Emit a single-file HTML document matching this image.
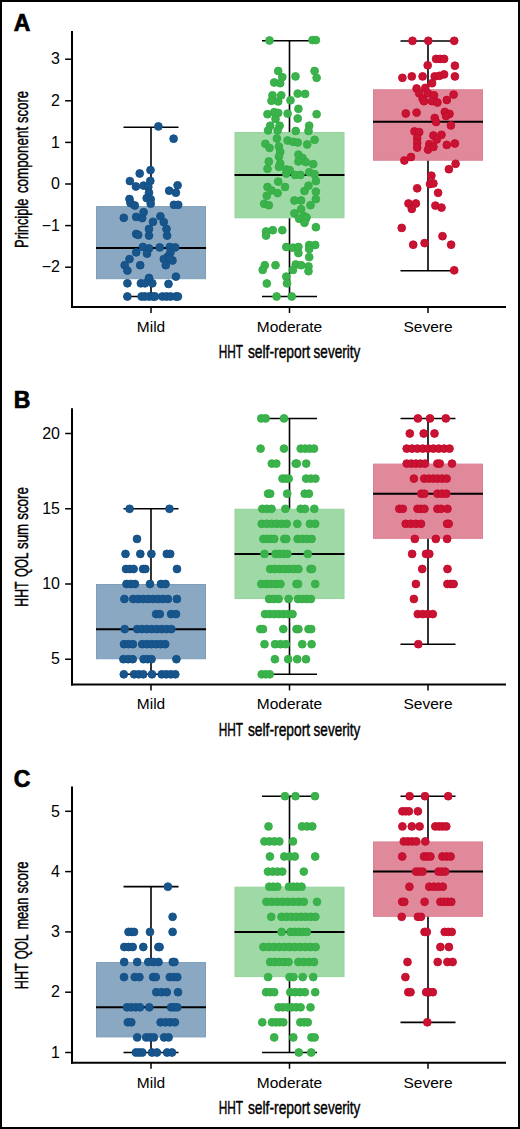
<!DOCTYPE html><html><head><meta charset="utf-8"><style>html,body{margin:0;padding:0;background:#fff;}svg{display:block;}</style></head><body>
<svg width="520" height="1129" viewBox="0 0 520 1129" font-family="Liberation Sans, sans-serif">
<rect x="0" y="0" width="520" height="1129" fill="#fff"/>
<rect x="96.50" y="206.60" width="109.00" height="72.10" fill="#8aa8c2" stroke="#7f9ebb" stroke-width="1"/>
<line x1="96.00" y1="248.00" x2="206.00" y2="248.00" stroke="#000" stroke-width="2"/>
<line x1="151.00" y1="127.20" x2="151.00" y2="206.10" stroke="#000" stroke-width="1.6"/>
<line x1="151.00" y1="279.20" x2="151.00" y2="296.50" stroke="#000" stroke-width="1.6"/>
<line x1="123.50" y1="127.20" x2="178.50" y2="127.20" stroke="#000" stroke-width="1.6"/>
<line x1="123.50" y1="296.50" x2="178.50" y2="296.50" stroke="#000" stroke-width="1.6"/>
<rect x="235.00" y="132.50" width="109.00" height="85.30" fill="#9fdaa6" stroke="#93d49c" stroke-width="1"/>
<line x1="234.50" y1="175.00" x2="344.50" y2="175.00" stroke="#000" stroke-width="2"/>
<line x1="289.50" y1="40.75" x2="289.50" y2="132.00" stroke="#000" stroke-width="1.6"/>
<line x1="289.50" y1="218.30" x2="289.50" y2="296.50" stroke="#000" stroke-width="1.6"/>
<line x1="262.00" y1="40.75" x2="317.00" y2="40.75" stroke="#000" stroke-width="1.6"/>
<line x1="262.00" y1="296.50" x2="317.00" y2="296.50" stroke="#000" stroke-width="1.6"/>
<rect x="373.50" y="89.75" width="109.00" height="70.50" fill="#e0899a" stroke="#da8294" stroke-width="1"/>
<line x1="373.00" y1="121.75" x2="483.00" y2="121.75" stroke="#000" stroke-width="2"/>
<line x1="428.00" y1="41.00" x2="428.00" y2="89.25" stroke="#000" stroke-width="1.6"/>
<line x1="428.00" y1="160.75" x2="428.00" y2="270.75" stroke="#000" stroke-width="1.6"/>
<line x1="400.50" y1="41.00" x2="455.50" y2="41.00" stroke="#000" stroke-width="1.6"/>
<line x1="400.50" y1="270.75" x2="455.50" y2="270.75" stroke="#000" stroke-width="1.6"/>
<circle cx="158.4" cy="126.4" r="3.90" fill="#18558b" stroke="#135089" stroke-width="0.9"/>
<circle cx="173.6" cy="138.7" r="3.90" fill="#18558b" stroke="#135089" stroke-width="0.9"/>
<circle cx="150.5" cy="170.1" r="3.90" fill="#18558b" stroke="#135089" stroke-width="0.9"/>
<circle cx="139.7" cy="173.5" r="3.90" fill="#18558b" stroke="#135089" stroke-width="0.9"/>
<circle cx="129.9" cy="181.1" r="3.90" fill="#18558b" stroke="#135089" stroke-width="0.9"/>
<circle cx="150.3" cy="180.9" r="3.90" fill="#18558b" stroke="#135089" stroke-width="0.9"/>
<circle cx="135.9" cy="186.5" r="3.90" fill="#18558b" stroke="#135089" stroke-width="0.9"/>
<circle cx="143.6" cy="185.6" r="3.90" fill="#18558b" stroke="#135089" stroke-width="0.9"/>
<circle cx="148.3" cy="186.9" r="3.90" fill="#18558b" stroke="#135089" stroke-width="0.9"/>
<circle cx="149.0" cy="192.7" r="3.90" fill="#18558b" stroke="#135089" stroke-width="0.9"/>
<circle cx="146.7" cy="198.1" r="3.90" fill="#18558b" stroke="#135089" stroke-width="0.9"/>
<circle cx="150.7" cy="199.3" r="3.90" fill="#18558b" stroke="#135089" stroke-width="0.9"/>
<circle cx="150.7" cy="203.7" r="3.90" fill="#18558b" stroke="#135089" stroke-width="0.9"/>
<circle cx="177.6" cy="185.3" r="3.90" fill="#18558b" stroke="#135089" stroke-width="0.9"/>
<circle cx="169.2" cy="190.7" r="3.90" fill="#18558b" stroke="#135089" stroke-width="0.9"/>
<circle cx="175.9" cy="192.7" r="3.90" fill="#18558b" stroke="#135089" stroke-width="0.9"/>
<circle cx="129.5" cy="199.0" r="3.90" fill="#18558b" stroke="#135089" stroke-width="0.9"/>
<circle cx="130.5" cy="203.1" r="3.90" fill="#18558b" stroke="#135089" stroke-width="0.9"/>
<circle cx="134.8" cy="205.5" r="3.90" fill="#18558b" stroke="#135089" stroke-width="0.9"/>
<circle cx="173.9" cy="204.8" r="3.90" fill="#18558b" stroke="#135089" stroke-width="0.9"/>
<circle cx="178.2" cy="204.8" r="3.90" fill="#18558b" stroke="#135089" stroke-width="0.9"/>
<circle cx="123.8" cy="217.8" r="3.90" fill="#18558b" stroke="#135089" stroke-width="0.9"/>
<circle cx="136.2" cy="216.9" r="3.90" fill="#18558b" stroke="#135089" stroke-width="0.9"/>
<circle cx="142.2" cy="218.1" r="3.90" fill="#18558b" stroke="#135089" stroke-width="0.9"/>
<circle cx="143.6" cy="212.2" r="3.90" fill="#18558b" stroke="#135089" stroke-width="0.9"/>
<circle cx="160.4" cy="216.3" r="3.90" fill="#18558b" stroke="#135089" stroke-width="0.9"/>
<circle cx="163.8" cy="222.1" r="3.90" fill="#18558b" stroke="#135089" stroke-width="0.9"/>
<circle cx="153.0" cy="221.8" r="3.90" fill="#18558b" stroke="#135089" stroke-width="0.9"/>
<circle cx="149.0" cy="229.0" r="3.90" fill="#18558b" stroke="#135089" stroke-width="0.9"/>
<circle cx="166.5" cy="229.0" r="3.90" fill="#18558b" stroke="#135089" stroke-width="0.9"/>
<circle cx="149.0" cy="235.6" r="3.90" fill="#18558b" stroke="#135089" stroke-width="0.9"/>
<circle cx="136.2" cy="234.0" r="3.90" fill="#18558b" stroke="#135089" stroke-width="0.9"/>
<circle cx="138.2" cy="234.9" r="3.90" fill="#18558b" stroke="#135089" stroke-width="0.9"/>
<circle cx="167.1" cy="235.6" r="3.90" fill="#18558b" stroke="#135089" stroke-width="0.9"/>
<circle cx="142.9" cy="247.0" r="3.90" fill="#18558b" stroke="#135089" stroke-width="0.9"/>
<circle cx="149.0" cy="248.4" r="3.90" fill="#18558b" stroke="#135089" stroke-width="0.9"/>
<circle cx="147.0" cy="253.7" r="3.90" fill="#18558b" stroke="#135089" stroke-width="0.9"/>
<circle cx="136.2" cy="252.4" r="3.90" fill="#18558b" stroke="#135089" stroke-width="0.9"/>
<circle cx="159.7" cy="247.4" r="3.90" fill="#18558b" stroke="#135089" stroke-width="0.9"/>
<circle cx="169.8" cy="247.0" r="3.90" fill="#18558b" stroke="#135089" stroke-width="0.9"/>
<circle cx="175.2" cy="247.4" r="3.90" fill="#18558b" stroke="#135089" stroke-width="0.9"/>
<circle cx="170.5" cy="252.4" r="3.90" fill="#18558b" stroke="#135089" stroke-width="0.9"/>
<circle cx="168.0" cy="256.5" r="3.90" fill="#18558b" stroke="#135089" stroke-width="0.9"/>
<circle cx="129.5" cy="259.1" r="3.90" fill="#18558b" stroke="#135089" stroke-width="0.9"/>
<circle cx="124.7" cy="265.2" r="3.90" fill="#18558b" stroke="#135089" stroke-width="0.9"/>
<circle cx="127.4" cy="270.6" r="3.90" fill="#18558b" stroke="#135089" stroke-width="0.9"/>
<circle cx="140.2" cy="265.2" r="3.90" fill="#18558b" stroke="#135089" stroke-width="0.9"/>
<circle cx="163.8" cy="259.1" r="3.90" fill="#18558b" stroke="#135089" stroke-width="0.9"/>
<circle cx="172.5" cy="260.5" r="3.90" fill="#18558b" stroke="#135089" stroke-width="0.9"/>
<circle cx="165.8" cy="265.2" r="3.90" fill="#18558b" stroke="#135089" stroke-width="0.9"/>
<circle cx="169.8" cy="258.4" r="3.90" fill="#18558b" stroke="#135089" stroke-width="0.9"/>
<circle cx="149.0" cy="278.0" r="3.90" fill="#18558b" stroke="#135089" stroke-width="0.9"/>
<circle cx="175.9" cy="276.6" r="3.90" fill="#18558b" stroke="#135089" stroke-width="0.9"/>
<circle cx="127.4" cy="283.3" r="3.90" fill="#18558b" stroke="#135089" stroke-width="0.9"/>
<circle cx="140.9" cy="283.3" r="3.90" fill="#18558b" stroke="#135089" stroke-width="0.9"/>
<circle cx="149.0" cy="279.2" r="3.90" fill="#18558b" stroke="#135089" stroke-width="0.9"/>
<circle cx="144.9" cy="283.3" r="3.90" fill="#18558b" stroke="#135089" stroke-width="0.9"/>
<circle cx="152.3" cy="283.3" r="3.90" fill="#18558b" stroke="#135089" stroke-width="0.9"/>
<circle cx="168.5" cy="283.9" r="3.90" fill="#18558b" stroke="#135089" stroke-width="0.9"/>
<circle cx="127.4" cy="296.5" r="3.90" fill="#18558b" stroke="#135089" stroke-width="0.9"/>
<circle cx="141.6" cy="296.5" r="3.90" fill="#18558b" stroke="#135089" stroke-width="0.9"/>
<circle cx="144.9" cy="296.5" r="3.90" fill="#18558b" stroke="#135089" stroke-width="0.9"/>
<circle cx="149.0" cy="296.5" r="3.90" fill="#18558b" stroke="#135089" stroke-width="0.9"/>
<circle cx="153.0" cy="296.5" r="3.90" fill="#18558b" stroke="#135089" stroke-width="0.9"/>
<circle cx="155.0" cy="296.5" r="3.90" fill="#18558b" stroke="#135089" stroke-width="0.9"/>
<circle cx="162.4" cy="296.5" r="3.90" fill="#18558b" stroke="#135089" stroke-width="0.9"/>
<circle cx="166.5" cy="296.5" r="3.90" fill="#18558b" stroke="#135089" stroke-width="0.9"/>
<circle cx="170.5" cy="296.5" r="3.90" fill="#18558b" stroke="#135089" stroke-width="0.9"/>
<circle cx="175.9" cy="296.5" r="3.90" fill="#18558b" stroke="#135089" stroke-width="0.9"/>
<circle cx="177.9" cy="296.5" r="3.90" fill="#18558b" stroke="#135089" stroke-width="0.9"/>
<circle cx="269.5" cy="40.5" r="3.90" fill="#3bb24c" stroke="#33af44" stroke-width="0.9"/>
<circle cx="312.5" cy="40.1" r="3.90" fill="#3bb24c" stroke="#33af44" stroke-width="0.9"/>
<circle cx="315.9" cy="40.1" r="3.90" fill="#3bb24c" stroke="#33af44" stroke-width="0.9"/>
<circle cx="278.2" cy="71.0" r="3.90" fill="#3bb24c" stroke="#33af44" stroke-width="0.9"/>
<circle cx="282.3" cy="77.1" r="3.90" fill="#3bb24c" stroke="#33af44" stroke-width="0.9"/>
<circle cx="274.2" cy="82.5" r="3.90" fill="#3bb24c" stroke="#33af44" stroke-width="0.9"/>
<circle cx="280.2" cy="83.2" r="3.90" fill="#3bb24c" stroke="#33af44" stroke-width="0.9"/>
<circle cx="295.5" cy="76.4" r="3.90" fill="#3bb24c" stroke="#33af44" stroke-width="0.9"/>
<circle cx="314.6" cy="71.0" r="3.90" fill="#3bb24c" stroke="#33af44" stroke-width="0.9"/>
<circle cx="316.6" cy="77.8" r="3.90" fill="#3bb24c" stroke="#33af44" stroke-width="0.9"/>
<circle cx="272.5" cy="95.3" r="3.90" fill="#3bb24c" stroke="#33af44" stroke-width="0.9"/>
<circle cx="281.2" cy="95.3" r="3.90" fill="#3bb24c" stroke="#33af44" stroke-width="0.9"/>
<circle cx="297.7" cy="93.6" r="3.90" fill="#3bb24c" stroke="#33af44" stroke-width="0.9"/>
<circle cx="305.1" cy="93.9" r="3.90" fill="#3bb24c" stroke="#33af44" stroke-width="0.9"/>
<circle cx="290.5" cy="100.3" r="3.90" fill="#3bb24c" stroke="#33af44" stroke-width="0.9"/>
<circle cx="271.5" cy="100.8" r="3.90" fill="#3bb24c" stroke="#33af44" stroke-width="0.9"/>
<circle cx="278.2" cy="101.4" r="3.90" fill="#3bb24c" stroke="#33af44" stroke-width="0.9"/>
<circle cx="298.4" cy="108.8" r="3.90" fill="#3bb24c" stroke="#33af44" stroke-width="0.9"/>
<circle cx="316.6" cy="114.2" r="3.90" fill="#3bb24c" stroke="#33af44" stroke-width="0.9"/>
<circle cx="287.6" cy="113.6" r="3.90" fill="#3bb24c" stroke="#33af44" stroke-width="0.9"/>
<circle cx="267.5" cy="114.2" r="3.90" fill="#3bb24c" stroke="#33af44" stroke-width="0.9"/>
<circle cx="274.2" cy="112.2" r="3.90" fill="#3bb24c" stroke="#33af44" stroke-width="0.9"/>
<circle cx="278.2" cy="112.9" r="3.90" fill="#3bb24c" stroke="#33af44" stroke-width="0.9"/>
<circle cx="275.5" cy="118.9" r="3.90" fill="#3bb24c" stroke="#33af44" stroke-width="0.9"/>
<circle cx="297.7" cy="118.5" r="3.90" fill="#3bb24c" stroke="#33af44" stroke-width="0.9"/>
<circle cx="270.2" cy="125.7" r="3.90" fill="#3bb24c" stroke="#33af44" stroke-width="0.9"/>
<circle cx="279.6" cy="125.7" r="3.90" fill="#3bb24c" stroke="#33af44" stroke-width="0.9"/>
<circle cx="268.1" cy="130.4" r="3.90" fill="#3bb24c" stroke="#33af44" stroke-width="0.9"/>
<circle cx="277.6" cy="130.4" r="3.90" fill="#3bb24c" stroke="#33af44" stroke-width="0.9"/>
<circle cx="309.2" cy="125.7" r="3.90" fill="#3bb24c" stroke="#33af44" stroke-width="0.9"/>
<circle cx="308.5" cy="131.0" r="3.90" fill="#3bb24c" stroke="#33af44" stroke-width="0.9"/>
<circle cx="295.7" cy="131.0" r="3.90" fill="#3bb24c" stroke="#33af44" stroke-width="0.9"/>
<circle cx="265.4" cy="143.8" r="3.90" fill="#3bb24c" stroke="#33af44" stroke-width="0.9"/>
<circle cx="269.5" cy="147.9" r="3.90" fill="#3bb24c" stroke="#33af44" stroke-width="0.9"/>
<circle cx="276.9" cy="138.5" r="3.90" fill="#3bb24c" stroke="#33af44" stroke-width="0.9"/>
<circle cx="278.9" cy="146.5" r="3.90" fill="#3bb24c" stroke="#33af44" stroke-width="0.9"/>
<circle cx="280.2" cy="151.9" r="3.90" fill="#3bb24c" stroke="#33af44" stroke-width="0.9"/>
<circle cx="278.9" cy="156.6" r="3.90" fill="#3bb24c" stroke="#33af44" stroke-width="0.9"/>
<circle cx="287.6" cy="140.5" r="3.90" fill="#3bb24c" stroke="#33af44" stroke-width="0.9"/>
<circle cx="293.0" cy="141.8" r="3.90" fill="#3bb24c" stroke="#33af44" stroke-width="0.9"/>
<circle cx="297.7" cy="142.5" r="3.90" fill="#3bb24c" stroke="#33af44" stroke-width="0.9"/>
<circle cx="307.2" cy="144.5" r="3.90" fill="#3bb24c" stroke="#33af44" stroke-width="0.9"/>
<circle cx="314.6" cy="139.8" r="3.90" fill="#3bb24c" stroke="#33af44" stroke-width="0.9"/>
<circle cx="298.4" cy="154.6" r="3.90" fill="#3bb24c" stroke="#33af44" stroke-width="0.9"/>
<circle cx="302.5" cy="158.0" r="3.90" fill="#3bb24c" stroke="#33af44" stroke-width="0.9"/>
<circle cx="268.8" cy="161.5" r="3.90" fill="#3bb24c" stroke="#33af44" stroke-width="0.9"/>
<circle cx="267.5" cy="168.8" r="3.90" fill="#3bb24c" stroke="#33af44" stroke-width="0.9"/>
<circle cx="280.2" cy="163.5" r="3.90" fill="#3bb24c" stroke="#33af44" stroke-width="0.9"/>
<circle cx="278.9" cy="166.8" r="3.90" fill="#3bb24c" stroke="#33af44" stroke-width="0.9"/>
<circle cx="298.4" cy="161.4" r="3.90" fill="#3bb24c" stroke="#33af44" stroke-width="0.9"/>
<circle cx="305.8" cy="162.1" r="3.90" fill="#3bb24c" stroke="#33af44" stroke-width="0.9"/>
<circle cx="313.2" cy="164.1" r="3.90" fill="#3bb24c" stroke="#33af44" stroke-width="0.9"/>
<circle cx="286.3" cy="169.5" r="3.90" fill="#3bb24c" stroke="#33af44" stroke-width="0.9"/>
<circle cx="289.7" cy="170.2" r="3.90" fill="#3bb24c" stroke="#33af44" stroke-width="0.9"/>
<circle cx="286.3" cy="173.6" r="3.90" fill="#3bb24c" stroke="#33af44" stroke-width="0.9"/>
<circle cx="295.0" cy="174.9" r="3.90" fill="#3bb24c" stroke="#33af44" stroke-width="0.9"/>
<circle cx="300.4" cy="174.9" r="3.90" fill="#3bb24c" stroke="#33af44" stroke-width="0.9"/>
<circle cx="309.2" cy="172.2" r="3.90" fill="#3bb24c" stroke="#33af44" stroke-width="0.9"/>
<circle cx="314.6" cy="174.2" r="3.90" fill="#3bb24c" stroke="#33af44" stroke-width="0.9"/>
<circle cx="315.9" cy="181.0" r="3.90" fill="#3bb24c" stroke="#33af44" stroke-width="0.9"/>
<circle cx="278.2" cy="181.6" r="3.90" fill="#3bb24c" stroke="#33af44" stroke-width="0.9"/>
<circle cx="285.0" cy="187.0" r="3.90" fill="#3bb24c" stroke="#33af44" stroke-width="0.9"/>
<circle cx="267.5" cy="187.0" r="3.90" fill="#3bb24c" stroke="#33af44" stroke-width="0.9"/>
<circle cx="271.5" cy="190.4" r="3.90" fill="#3bb24c" stroke="#33af44" stroke-width="0.9"/>
<circle cx="277.6" cy="193.1" r="3.90" fill="#3bb24c" stroke="#33af44" stroke-width="0.9"/>
<circle cx="266.8" cy="195.8" r="3.90" fill="#3bb24c" stroke="#33af44" stroke-width="0.9"/>
<circle cx="308.5" cy="185.7" r="3.90" fill="#3bb24c" stroke="#33af44" stroke-width="0.9"/>
<circle cx="304.5" cy="191.0" r="3.90" fill="#3bb24c" stroke="#33af44" stroke-width="0.9"/>
<circle cx="315.9" cy="191.7" r="3.90" fill="#3bb24c" stroke="#33af44" stroke-width="0.9"/>
<circle cx="315.9" cy="199.1" r="3.90" fill="#3bb24c" stroke="#33af44" stroke-width="0.9"/>
<circle cx="264.1" cy="203.8" r="3.90" fill="#3bb24c" stroke="#33af44" stroke-width="0.9"/>
<circle cx="268.8" cy="205.2" r="3.90" fill="#3bb24c" stroke="#33af44" stroke-width="0.9"/>
<circle cx="294.4" cy="200.5" r="3.90" fill="#3bb24c" stroke="#33af44" stroke-width="0.9"/>
<circle cx="301.1" cy="200.5" r="3.90" fill="#3bb24c" stroke="#33af44" stroke-width="0.9"/>
<circle cx="310.5" cy="205.2" r="3.90" fill="#3bb24c" stroke="#33af44" stroke-width="0.9"/>
<circle cx="301.1" cy="209.2" r="3.90" fill="#3bb24c" stroke="#33af44" stroke-width="0.9"/>
<circle cx="294.4" cy="213.3" r="3.90" fill="#3bb24c" stroke="#33af44" stroke-width="0.9"/>
<circle cx="303.8" cy="216.0" r="3.90" fill="#3bb24c" stroke="#33af44" stroke-width="0.9"/>
<circle cx="306.5" cy="217.3" r="3.90" fill="#3bb24c" stroke="#33af44" stroke-width="0.9"/>
<circle cx="299.1" cy="218.7" r="3.90" fill="#3bb24c" stroke="#33af44" stroke-width="0.9"/>
<circle cx="305.8" cy="218.7" r="3.90" fill="#3bb24c" stroke="#33af44" stroke-width="0.9"/>
<circle cx="304.5" cy="222.8" r="3.90" fill="#3bb24c" stroke="#33af44" stroke-width="0.9"/>
<circle cx="315.9" cy="227.2" r="3.90" fill="#3bb24c" stroke="#33af44" stroke-width="0.9"/>
<circle cx="266.1" cy="231.5" r="3.90" fill="#3bb24c" stroke="#33af44" stroke-width="0.9"/>
<circle cx="266.1" cy="235.6" r="3.90" fill="#3bb24c" stroke="#33af44" stroke-width="0.9"/>
<circle cx="272.8" cy="230.2" r="3.90" fill="#3bb24c" stroke="#33af44" stroke-width="0.9"/>
<circle cx="282.3" cy="230.2" r="3.90" fill="#3bb24c" stroke="#33af44" stroke-width="0.9"/>
<circle cx="286.3" cy="247.0" r="3.90" fill="#3bb24c" stroke="#33af44" stroke-width="0.9"/>
<circle cx="293.0" cy="247.7" r="3.90" fill="#3bb24c" stroke="#33af44" stroke-width="0.9"/>
<circle cx="298.4" cy="247.0" r="3.90" fill="#3bb24c" stroke="#33af44" stroke-width="0.9"/>
<circle cx="298.4" cy="253.1" r="3.90" fill="#3bb24c" stroke="#33af44" stroke-width="0.9"/>
<circle cx="309.2" cy="245.0" r="3.90" fill="#3bb24c" stroke="#33af44" stroke-width="0.9"/>
<circle cx="315.2" cy="245.0" r="3.90" fill="#3bb24c" stroke="#33af44" stroke-width="0.9"/>
<circle cx="309.2" cy="249.0" r="3.90" fill="#3bb24c" stroke="#33af44" stroke-width="0.9"/>
<circle cx="309.2" cy="257.1" r="3.90" fill="#3bb24c" stroke="#33af44" stroke-width="0.9"/>
<circle cx="264.8" cy="265.2" r="3.90" fill="#3bb24c" stroke="#33af44" stroke-width="0.9"/>
<circle cx="262.7" cy="269.9" r="3.90" fill="#3bb24c" stroke="#33af44" stroke-width="0.9"/>
<circle cx="275.5" cy="265.2" r="3.90" fill="#3bb24c" stroke="#33af44" stroke-width="0.9"/>
<circle cx="295.7" cy="264.5" r="3.90" fill="#3bb24c" stroke="#33af44" stroke-width="0.9"/>
<circle cx="301.1" cy="265.2" r="3.90" fill="#3bb24c" stroke="#33af44" stroke-width="0.9"/>
<circle cx="293.0" cy="269.9" r="3.90" fill="#3bb24c" stroke="#33af44" stroke-width="0.9"/>
<circle cx="308.5" cy="266.5" r="3.90" fill="#3bb24c" stroke="#33af44" stroke-width="0.9"/>
<circle cx="308.5" cy="271.2" r="3.90" fill="#3bb24c" stroke="#33af44" stroke-width="0.9"/>
<circle cx="286.3" cy="276.6" r="3.90" fill="#3bb24c" stroke="#33af44" stroke-width="0.9"/>
<circle cx="287.0" cy="283.3" r="3.90" fill="#3bb24c" stroke="#33af44" stroke-width="0.9"/>
<circle cx="266.8" cy="283.5" r="3.90" fill="#3bb24c" stroke="#33af44" stroke-width="0.9"/>
<circle cx="276.6" cy="296.5" r="3.90" fill="#3bb24c" stroke="#33af44" stroke-width="0.9"/>
<circle cx="291.7" cy="296.5" r="3.90" fill="#3bb24c" stroke="#33af44" stroke-width="0.9"/>
<circle cx="412.5" cy="40.8" r="3.90" fill="#c81332" stroke="#c60a2e" stroke-width="0.9"/>
<circle cx="428.3" cy="40.8" r="3.90" fill="#c81332" stroke="#c60a2e" stroke-width="0.9"/>
<circle cx="454.2" cy="40.8" r="3.90" fill="#c81332" stroke="#c60a2e" stroke-width="0.9"/>
<circle cx="436.1" cy="58.9" r="3.90" fill="#c81332" stroke="#c60a2e" stroke-width="0.9"/>
<circle cx="440.1" cy="58.9" r="3.90" fill="#c81332" stroke="#c60a2e" stroke-width="0.9"/>
<circle cx="444.1" cy="58.9" r="3.90" fill="#c81332" stroke="#c60a2e" stroke-width="0.9"/>
<circle cx="427.7" cy="65.3" r="3.90" fill="#c81332" stroke="#c60a2e" stroke-width="0.9"/>
<circle cx="454.9" cy="65.7" r="3.90" fill="#c81332" stroke="#c60a2e" stroke-width="0.9"/>
<circle cx="402.4" cy="77.8" r="3.90" fill="#c81332" stroke="#c60a2e" stroke-width="0.9"/>
<circle cx="411.8" cy="76.4" r="3.90" fill="#c81332" stroke="#c60a2e" stroke-width="0.9"/>
<circle cx="422.6" cy="76.4" r="3.90" fill="#c81332" stroke="#c60a2e" stroke-width="0.9"/>
<circle cx="434.7" cy="76.4" r="3.90" fill="#c81332" stroke="#c60a2e" stroke-width="0.9"/>
<circle cx="439.4" cy="75.8" r="3.90" fill="#c81332" stroke="#c60a2e" stroke-width="0.9"/>
<circle cx="444.1" cy="74.4" r="3.90" fill="#c81332" stroke="#c60a2e" stroke-width="0.9"/>
<circle cx="454.9" cy="76.4" r="3.90" fill="#c81332" stroke="#c60a2e" stroke-width="0.9"/>
<circle cx="432.0" cy="83.2" r="3.90" fill="#c81332" stroke="#c60a2e" stroke-width="0.9"/>
<circle cx="416.6" cy="88.5" r="3.90" fill="#c81332" stroke="#c60a2e" stroke-width="0.9"/>
<circle cx="425.3" cy="87.9" r="3.90" fill="#c81332" stroke="#c60a2e" stroke-width="0.9"/>
<circle cx="419.2" cy="93.3" r="3.90" fill="#c81332" stroke="#c60a2e" stroke-width="0.9"/>
<circle cx="428.0" cy="93.3" r="3.90" fill="#c81332" stroke="#c60a2e" stroke-width="0.9"/>
<circle cx="434.0" cy="95.3" r="3.90" fill="#c81332" stroke="#c60a2e" stroke-width="0.9"/>
<circle cx="453.6" cy="94.6" r="3.90" fill="#c81332" stroke="#c60a2e" stroke-width="0.9"/>
<circle cx="422.6" cy="98.6" r="3.90" fill="#c81332" stroke="#c60a2e" stroke-width="0.9"/>
<circle cx="446.8" cy="100.0" r="3.90" fill="#c81332" stroke="#c60a2e" stroke-width="0.9"/>
<circle cx="424.0" cy="101.2" r="3.90" fill="#c81332" stroke="#c60a2e" stroke-width="0.9"/>
<circle cx="432.0" cy="101.2" r="3.90" fill="#c81332" stroke="#c60a2e" stroke-width="0.9"/>
<circle cx="437.4" cy="102.5" r="3.90" fill="#c81332" stroke="#c60a2e" stroke-width="0.9"/>
<circle cx="405.8" cy="113.5" r="3.90" fill="#c81332" stroke="#c60a2e" stroke-width="0.9"/>
<circle cx="416.6" cy="112.6" r="3.90" fill="#c81332" stroke="#c60a2e" stroke-width="0.9"/>
<circle cx="444.8" cy="111.9" r="3.90" fill="#c81332" stroke="#c60a2e" stroke-width="0.9"/>
<circle cx="449.5" cy="113.9" r="3.90" fill="#c81332" stroke="#c60a2e" stroke-width="0.9"/>
<circle cx="446.0" cy="116.0" r="3.90" fill="#c81332" stroke="#c60a2e" stroke-width="0.9"/>
<circle cx="434.7" cy="118.0" r="3.90" fill="#c81332" stroke="#c60a2e" stroke-width="0.9"/>
<circle cx="436.1" cy="122.0" r="3.90" fill="#c81332" stroke="#c60a2e" stroke-width="0.9"/>
<circle cx="450.9" cy="125.4" r="3.90" fill="#c81332" stroke="#c60a2e" stroke-width="0.9"/>
<circle cx="414.5" cy="131.4" r="3.90" fill="#c81332" stroke="#c60a2e" stroke-width="0.9"/>
<circle cx="419.2" cy="132.1" r="3.90" fill="#c81332" stroke="#c60a2e" stroke-width="0.9"/>
<circle cx="417.2" cy="138.2" r="3.90" fill="#c81332" stroke="#c60a2e" stroke-width="0.9"/>
<circle cx="417.2" cy="142.9" r="3.90" fill="#c81332" stroke="#c60a2e" stroke-width="0.9"/>
<circle cx="417.2" cy="147.6" r="3.90" fill="#c81332" stroke="#c60a2e" stroke-width="0.9"/>
<circle cx="433.4" cy="135.5" r="3.90" fill="#c81332" stroke="#c60a2e" stroke-width="0.9"/>
<circle cx="441.5" cy="134.8" r="3.90" fill="#c81332" stroke="#c60a2e" stroke-width="0.9"/>
<circle cx="436.7" cy="139.5" r="3.90" fill="#c81332" stroke="#c60a2e" stroke-width="0.9"/>
<circle cx="429.3" cy="144.2" r="3.90" fill="#c81332" stroke="#c60a2e" stroke-width="0.9"/>
<circle cx="428.0" cy="149.6" r="3.90" fill="#c81332" stroke="#c60a2e" stroke-width="0.9"/>
<circle cx="433.4" cy="146.9" r="3.90" fill="#c81332" stroke="#c60a2e" stroke-width="0.9"/>
<circle cx="446.8" cy="144.9" r="3.90" fill="#c81332" stroke="#c60a2e" stroke-width="0.9"/>
<circle cx="454.9" cy="143.5" r="3.90" fill="#c81332" stroke="#c60a2e" stroke-width="0.9"/>
<circle cx="411.0" cy="157.0" r="3.90" fill="#c81332" stroke="#c60a2e" stroke-width="0.9"/>
<circle cx="404.4" cy="160.5" r="3.90" fill="#c81332" stroke="#c60a2e" stroke-width="0.9"/>
<circle cx="455.6" cy="163.8" r="3.90" fill="#c81332" stroke="#c60a2e" stroke-width="0.9"/>
<circle cx="448.9" cy="169.2" r="3.90" fill="#c81332" stroke="#c60a2e" stroke-width="0.9"/>
<circle cx="431.4" cy="175.7" r="3.90" fill="#c81332" stroke="#c60a2e" stroke-width="0.9"/>
<circle cx="430.0" cy="184.0" r="3.90" fill="#c81332" stroke="#c60a2e" stroke-width="0.9"/>
<circle cx="433.4" cy="183.4" r="3.90" fill="#c81332" stroke="#c60a2e" stroke-width="0.9"/>
<circle cx="417.2" cy="188.3" r="3.90" fill="#c81332" stroke="#c60a2e" stroke-width="0.9"/>
<circle cx="438.1" cy="192.8" r="3.90" fill="#c81332" stroke="#c60a2e" stroke-width="0.9"/>
<circle cx="408.5" cy="203.5" r="3.90" fill="#c81332" stroke="#c60a2e" stroke-width="0.9"/>
<circle cx="415.9" cy="203.5" r="3.90" fill="#c81332" stroke="#c60a2e" stroke-width="0.9"/>
<circle cx="411.8" cy="208.9" r="3.90" fill="#c81332" stroke="#c60a2e" stroke-width="0.9"/>
<circle cx="435.4" cy="205.6" r="3.90" fill="#c81332" stroke="#c60a2e" stroke-width="0.9"/>
<circle cx="441.5" cy="207.6" r="3.90" fill="#c81332" stroke="#c60a2e" stroke-width="0.9"/>
<circle cx="401.7" cy="227.9" r="3.90" fill="#c81332" stroke="#c60a2e" stroke-width="0.9"/>
<circle cx="413.2" cy="244.7" r="3.90" fill="#c81332" stroke="#c60a2e" stroke-width="0.9"/>
<circle cx="424.6" cy="243.1" r="3.90" fill="#c81332" stroke="#c60a2e" stroke-width="0.9"/>
<circle cx="442.5" cy="236.2" r="3.90" fill="#c81332" stroke="#c60a2e" stroke-width="0.9"/>
<circle cx="451.1" cy="244.7" r="3.90" fill="#c81332" stroke="#c60a2e" stroke-width="0.9"/>
<circle cx="454.2" cy="270.3" r="3.90" fill="#c81332" stroke="#c60a2e" stroke-width="0.9"/>
<line x1="72" y1="31.00" x2="72" y2="308.00" stroke="#000" stroke-width="2"/>
<line x1="71" y1="307.00" x2="506" y2="307.00" stroke="#000" stroke-width="2"/>
<line x1="65.2" y1="59.20" x2="72" y2="59.20" stroke="#000" stroke-width="1.5"/>
<text x="60" y="64.40" font-size="16" text-anchor="end">3</text>
<line x1="65.2" y1="100.80" x2="72" y2="100.80" stroke="#000" stroke-width="1.5"/>
<text x="60" y="106.00" font-size="16" text-anchor="end">2</text>
<line x1="65.2" y1="142.40" x2="72" y2="142.40" stroke="#000" stroke-width="1.5"/>
<text x="60" y="147.60" font-size="16" text-anchor="end">1</text>
<line x1="65.2" y1="184.00" x2="72" y2="184.00" stroke="#000" stroke-width="1.5"/>
<text x="60" y="189.20" font-size="16" text-anchor="end">0</text>
<line x1="65.2" y1="225.60" x2="72" y2="225.60" stroke="#000" stroke-width="1.5"/>
<text x="60" y="230.80" font-size="16" text-anchor="end">−1</text>
<line x1="65.2" y1="267.20" x2="72" y2="267.20" stroke="#000" stroke-width="1.5"/>
<text x="60" y="272.40" font-size="16" text-anchor="end">−2</text>
<line x1="151.00" y1="307.00" x2="151.00" y2="313.00" stroke="#000" stroke-width="1.5"/>
<text x="151.00" y="331.70" font-size="15.5" text-anchor="middle">Mild</text>
<line x1="289.50" y1="307.00" x2="289.50" y2="313.00" stroke="#000" stroke-width="1.5"/>
<text x="289.50" y="331.70" font-size="15.5" text-anchor="middle">Moderate</text>
<line x1="428.00" y1="307.00" x2="428.00" y2="313.00" stroke="#000" stroke-width="1.5"/>
<text x="428.00" y="331.70" font-size="15.5" text-anchor="middle">Severe</text>
<text x="218.70" y="358.40" font-size="19" textLength="24.30" lengthAdjust="spacingAndGlyphs" stroke="#000" stroke-width="0.45">HHT</text>
<text x="247.90" y="358.40" font-size="19" textLength="62.30" lengthAdjust="spacingAndGlyphs" stroke="#000" stroke-width="0.45">self-report</text>
<text x="313.60" y="358.40" font-size="19" textLength="46.60" lengthAdjust="spacingAndGlyphs" stroke="#000" stroke-width="0.45">severity</text>
<text transform="translate(28.20,247.90) rotate(-90)" x="0" y="0" font-size="19" textLength="49.20" lengthAdjust="spacingAndGlyphs" stroke="#000" stroke-width="0.45">Principle</text>
<text transform="translate(28.20,193.10) rotate(-90)" x="0" y="0" font-size="19" textLength="66.20" lengthAdjust="spacingAndGlyphs" stroke="#000" stroke-width="0.45">component</text>
<text transform="translate(28.20,122.90) rotate(-90)" x="0" y="0" font-size="19" textLength="31.90" lengthAdjust="spacingAndGlyphs" stroke="#000" stroke-width="0.45">score</text>
<text x="13.8" y="30.80" font-size="23" font-weight="bold" stroke="#000" stroke-width="0.7">A</text>
<rect x="96.50" y="584.50" width="109.00" height="74.25" fill="#8aa8c2" stroke="#7f9ebb" stroke-width="1"/>
<line x1="96.00" y1="629.15" x2="206.00" y2="629.15" stroke="#000" stroke-width="2"/>
<line x1="151.00" y1="508.75" x2="151.00" y2="584.00" stroke="#000" stroke-width="1.6"/>
<line x1="151.00" y1="659.25" x2="151.00" y2="674.30" stroke="#000" stroke-width="1.6"/>
<line x1="123.50" y1="508.75" x2="178.50" y2="508.75" stroke="#000" stroke-width="1.6"/>
<line x1="123.50" y1="674.30" x2="178.50" y2="674.30" stroke="#000" stroke-width="1.6"/>
<rect x="235.00" y="509.25" width="109.00" height="89.30" fill="#9fdaa6" stroke="#93d49c" stroke-width="1"/>
<line x1="234.50" y1="553.90" x2="344.50" y2="553.90" stroke="#000" stroke-width="2"/>
<line x1="289.50" y1="418.45" x2="289.50" y2="508.75" stroke="#000" stroke-width="1.6"/>
<line x1="289.50" y1="599.05" x2="289.50" y2="674.30" stroke="#000" stroke-width="1.6"/>
<line x1="262.00" y1="418.45" x2="317.00" y2="418.45" stroke="#000" stroke-width="1.6"/>
<line x1="262.00" y1="674.30" x2="317.00" y2="674.30" stroke="#000" stroke-width="1.6"/>
<rect x="373.50" y="464.10" width="109.00" height="74.25" fill="#e0899a" stroke="#da8294" stroke-width="1"/>
<line x1="373.00" y1="493.70" x2="483.00" y2="493.70" stroke="#000" stroke-width="2"/>
<line x1="428.00" y1="418.45" x2="428.00" y2="463.60" stroke="#000" stroke-width="1.6"/>
<line x1="428.00" y1="538.85" x2="428.00" y2="644.20" stroke="#000" stroke-width="1.6"/>
<line x1="400.50" y1="418.45" x2="455.50" y2="418.45" stroke="#000" stroke-width="1.6"/>
<line x1="400.50" y1="644.20" x2="455.50" y2="644.20" stroke="#000" stroke-width="1.6"/>
<circle cx="129.6" cy="508.8" r="3.90" fill="#18558b" stroke="#135089" stroke-width="0.9"/>
<circle cx="169.5" cy="508.8" r="3.90" fill="#18558b" stroke="#135089" stroke-width="0.9"/>
<circle cx="137.0" cy="538.9" r="3.90" fill="#18558b" stroke="#135089" stroke-width="0.9"/>
<circle cx="125.5" cy="553.9" r="3.90" fill="#18558b" stroke="#135089" stroke-width="0.9"/>
<circle cx="140.3" cy="553.9" r="3.90" fill="#18558b" stroke="#135089" stroke-width="0.9"/>
<circle cx="151.4" cy="553.9" r="3.90" fill="#18558b" stroke="#135089" stroke-width="0.9"/>
<circle cx="166.8" cy="553.9" r="3.90" fill="#18558b" stroke="#135089" stroke-width="0.9"/>
<circle cx="170.2" cy="553.9" r="3.90" fill="#18558b" stroke="#135089" stroke-width="0.9"/>
<circle cx="126.0" cy="569.0" r="3.90" fill="#18558b" stroke="#135089" stroke-width="0.9"/>
<circle cx="129.8" cy="569.0" r="3.90" fill="#18558b" stroke="#135089" stroke-width="0.9"/>
<circle cx="133.6" cy="569.0" r="3.90" fill="#18558b" stroke="#135089" stroke-width="0.9"/>
<circle cx="143.1" cy="569.0" r="3.90" fill="#18558b" stroke="#135089" stroke-width="0.9"/>
<circle cx="145.3" cy="569.0" r="3.90" fill="#18558b" stroke="#135089" stroke-width="0.9"/>
<circle cx="177.0" cy="569.0" r="3.90" fill="#18558b" stroke="#135089" stroke-width="0.9"/>
<circle cx="126.5" cy="584.0" r="3.90" fill="#18558b" stroke="#135089" stroke-width="0.9"/>
<circle cx="130.7" cy="584.0" r="3.90" fill="#18558b" stroke="#135089" stroke-width="0.9"/>
<circle cx="134.9" cy="584.0" r="3.90" fill="#18558b" stroke="#135089" stroke-width="0.9"/>
<circle cx="150.0" cy="584.0" r="3.90" fill="#18558b" stroke="#135089" stroke-width="0.9"/>
<circle cx="161.0" cy="584.0" r="3.90" fill="#18558b" stroke="#135089" stroke-width="0.9"/>
<circle cx="165.5" cy="584.0" r="3.90" fill="#18558b" stroke="#135089" stroke-width="0.9"/>
<circle cx="124.4" cy="599.0" r="3.90" fill="#18558b" stroke="#135089" stroke-width="0.9"/>
<circle cx="133.2" cy="599.0" r="3.90" fill="#18558b" stroke="#135089" stroke-width="0.9"/>
<circle cx="138.2" cy="599.0" r="3.90" fill="#18558b" stroke="#135089" stroke-width="0.9"/>
<circle cx="143.1" cy="599.0" r="3.90" fill="#18558b" stroke="#135089" stroke-width="0.9"/>
<circle cx="148.1" cy="599.0" r="3.90" fill="#18558b" stroke="#135089" stroke-width="0.9"/>
<circle cx="153.0" cy="599.0" r="3.90" fill="#18558b" stroke="#135089" stroke-width="0.9"/>
<circle cx="158.0" cy="599.0" r="3.90" fill="#18558b" stroke="#135089" stroke-width="0.9"/>
<circle cx="162.9" cy="599.0" r="3.90" fill="#18558b" stroke="#135089" stroke-width="0.9"/>
<circle cx="167.9" cy="599.0" r="3.90" fill="#18558b" stroke="#135089" stroke-width="0.9"/>
<circle cx="176.9" cy="599.0" r="3.90" fill="#18558b" stroke="#135089" stroke-width="0.9"/>
<circle cx="156.1" cy="614.1" r="3.90" fill="#18558b" stroke="#135089" stroke-width="0.9"/>
<circle cx="159.8" cy="614.1" r="3.90" fill="#18558b" stroke="#135089" stroke-width="0.9"/>
<circle cx="171.1" cy="614.1" r="3.90" fill="#18558b" stroke="#135089" stroke-width="0.9"/>
<circle cx="176.0" cy="614.1" r="3.90" fill="#18558b" stroke="#135089" stroke-width="0.9"/>
<circle cx="124.8" cy="629.1" r="3.90" fill="#18558b" stroke="#135089" stroke-width="0.9"/>
<circle cx="137.2" cy="629.1" r="3.90" fill="#18558b" stroke="#135089" stroke-width="0.9"/>
<circle cx="142.1" cy="629.1" r="3.90" fill="#18558b" stroke="#135089" stroke-width="0.9"/>
<circle cx="146.9" cy="629.1" r="3.90" fill="#18558b" stroke="#135089" stroke-width="0.9"/>
<circle cx="151.8" cy="629.1" r="3.90" fill="#18558b" stroke="#135089" stroke-width="0.9"/>
<circle cx="156.7" cy="629.1" r="3.90" fill="#18558b" stroke="#135089" stroke-width="0.9"/>
<circle cx="161.6" cy="629.1" r="3.90" fill="#18558b" stroke="#135089" stroke-width="0.9"/>
<circle cx="166.4" cy="629.1" r="3.90" fill="#18558b" stroke="#135089" stroke-width="0.9"/>
<circle cx="171.3" cy="629.1" r="3.90" fill="#18558b" stroke="#135089" stroke-width="0.9"/>
<circle cx="124.0" cy="644.2" r="3.90" fill="#18558b" stroke="#135089" stroke-width="0.9"/>
<circle cx="128.4" cy="644.2" r="3.90" fill="#18558b" stroke="#135089" stroke-width="0.9"/>
<circle cx="132.9" cy="644.2" r="3.90" fill="#18558b" stroke="#135089" stroke-width="0.9"/>
<circle cx="142.2" cy="644.2" r="3.90" fill="#18558b" stroke="#135089" stroke-width="0.9"/>
<circle cx="146.8" cy="644.2" r="3.90" fill="#18558b" stroke="#135089" stroke-width="0.9"/>
<circle cx="151.4" cy="644.2" r="3.90" fill="#18558b" stroke="#135089" stroke-width="0.9"/>
<circle cx="156.0" cy="644.2" r="3.90" fill="#18558b" stroke="#135089" stroke-width="0.9"/>
<circle cx="160.6" cy="644.2" r="3.90" fill="#18558b" stroke="#135089" stroke-width="0.9"/>
<circle cx="165.2" cy="644.2" r="3.90" fill="#18558b" stroke="#135089" stroke-width="0.9"/>
<circle cx="123.4" cy="659.2" r="3.90" fill="#18558b" stroke="#135089" stroke-width="0.9"/>
<circle cx="128.1" cy="659.2" r="3.90" fill="#18558b" stroke="#135089" stroke-width="0.9"/>
<circle cx="132.7" cy="659.2" r="3.90" fill="#18558b" stroke="#135089" stroke-width="0.9"/>
<circle cx="143.6" cy="659.2" r="3.90" fill="#18558b" stroke="#135089" stroke-width="0.9"/>
<circle cx="147.6" cy="659.2" r="3.90" fill="#18558b" stroke="#135089" stroke-width="0.9"/>
<circle cx="151.5" cy="659.2" r="3.90" fill="#18558b" stroke="#135089" stroke-width="0.9"/>
<circle cx="176.4" cy="659.2" r="3.90" fill="#18558b" stroke="#135089" stroke-width="0.9"/>
<circle cx="123.8" cy="674.3" r="3.90" fill="#18558b" stroke="#135089" stroke-width="0.9"/>
<circle cx="134.1" cy="674.3" r="3.90" fill="#18558b" stroke="#135089" stroke-width="0.9"/>
<circle cx="138.7" cy="674.3" r="3.90" fill="#18558b" stroke="#135089" stroke-width="0.9"/>
<circle cx="143.3" cy="674.3" r="3.90" fill="#18558b" stroke="#135089" stroke-width="0.9"/>
<circle cx="152.0" cy="674.3" r="3.90" fill="#18558b" stroke="#135089" stroke-width="0.9"/>
<circle cx="161.7" cy="674.3" r="3.90" fill="#18558b" stroke="#135089" stroke-width="0.9"/>
<circle cx="166.2" cy="674.3" r="3.90" fill="#18558b" stroke="#135089" stroke-width="0.9"/>
<circle cx="170.8" cy="674.3" r="3.90" fill="#18558b" stroke="#135089" stroke-width="0.9"/>
<circle cx="175.3" cy="674.3" r="3.90" fill="#18558b" stroke="#135089" stroke-width="0.9"/>
<circle cx="261.3" cy="418.4" r="3.90" fill="#3bb24c" stroke="#33af44" stroke-width="0.9"/>
<circle cx="265.6" cy="418.4" r="3.90" fill="#3bb24c" stroke="#33af44" stroke-width="0.9"/>
<circle cx="284.0" cy="418.4" r="3.90" fill="#3bb24c" stroke="#33af44" stroke-width="0.9"/>
<circle cx="260.6" cy="448.6" r="3.90" fill="#3bb24c" stroke="#33af44" stroke-width="0.9"/>
<circle cx="284.0" cy="448.6" r="3.90" fill="#3bb24c" stroke="#33af44" stroke-width="0.9"/>
<circle cx="300.7" cy="448.6" r="3.90" fill="#3bb24c" stroke="#33af44" stroke-width="0.9"/>
<circle cx="305.1" cy="448.6" r="3.90" fill="#3bb24c" stroke="#33af44" stroke-width="0.9"/>
<circle cx="309.6" cy="448.6" r="3.90" fill="#3bb24c" stroke="#33af44" stroke-width="0.9"/>
<circle cx="314.0" cy="448.6" r="3.90" fill="#3bb24c" stroke="#33af44" stroke-width="0.9"/>
<circle cx="271.8" cy="463.6" r="3.90" fill="#3bb24c" stroke="#33af44" stroke-width="0.9"/>
<circle cx="276.3" cy="463.6" r="3.90" fill="#3bb24c" stroke="#33af44" stroke-width="0.9"/>
<circle cx="295.7" cy="463.6" r="3.90" fill="#3bb24c" stroke="#33af44" stroke-width="0.9"/>
<circle cx="296.8" cy="463.6" r="3.90" fill="#3bb24c" stroke="#33af44" stroke-width="0.9"/>
<circle cx="306.2" cy="463.6" r="3.90" fill="#3bb24c" stroke="#33af44" stroke-width="0.9"/>
<circle cx="282.5" cy="478.6" r="3.90" fill="#3bb24c" stroke="#33af44" stroke-width="0.9"/>
<circle cx="285.6" cy="478.6" r="3.90" fill="#3bb24c" stroke="#33af44" stroke-width="0.9"/>
<circle cx="288.7" cy="478.6" r="3.90" fill="#3bb24c" stroke="#33af44" stroke-width="0.9"/>
<circle cx="306.1" cy="478.6" r="3.90" fill="#3bb24c" stroke="#33af44" stroke-width="0.9"/>
<circle cx="310.8" cy="478.6" r="3.90" fill="#3bb24c" stroke="#33af44" stroke-width="0.9"/>
<circle cx="315.4" cy="478.6" r="3.90" fill="#3bb24c" stroke="#33af44" stroke-width="0.9"/>
<circle cx="268.1" cy="493.7" r="3.90" fill="#3bb24c" stroke="#33af44" stroke-width="0.9"/>
<circle cx="270.2" cy="493.7" r="3.90" fill="#3bb24c" stroke="#33af44" stroke-width="0.9"/>
<circle cx="287.2" cy="493.7" r="3.90" fill="#3bb24c" stroke="#33af44" stroke-width="0.9"/>
<circle cx="304.7" cy="493.7" r="3.90" fill="#3bb24c" stroke="#33af44" stroke-width="0.9"/>
<circle cx="308.9" cy="493.7" r="3.90" fill="#3bb24c" stroke="#33af44" stroke-width="0.9"/>
<circle cx="262.3" cy="508.8" r="3.90" fill="#3bb24c" stroke="#33af44" stroke-width="0.9"/>
<circle cx="266.9" cy="508.8" r="3.90" fill="#3bb24c" stroke="#33af44" stroke-width="0.9"/>
<circle cx="271.5" cy="508.8" r="3.90" fill="#3bb24c" stroke="#33af44" stroke-width="0.9"/>
<circle cx="285.4" cy="508.8" r="3.90" fill="#3bb24c" stroke="#33af44" stroke-width="0.9"/>
<circle cx="300.7" cy="508.8" r="3.90" fill="#3bb24c" stroke="#33af44" stroke-width="0.9"/>
<circle cx="304.9" cy="508.8" r="3.90" fill="#3bb24c" stroke="#33af44" stroke-width="0.9"/>
<circle cx="314.3" cy="508.8" r="3.90" fill="#3bb24c" stroke="#33af44" stroke-width="0.9"/>
<circle cx="261.7" cy="523.8" r="3.90" fill="#3bb24c" stroke="#33af44" stroke-width="0.9"/>
<circle cx="266.7" cy="523.8" r="3.90" fill="#3bb24c" stroke="#33af44" stroke-width="0.9"/>
<circle cx="271.7" cy="523.8" r="3.90" fill="#3bb24c" stroke="#33af44" stroke-width="0.9"/>
<circle cx="276.7" cy="523.8" r="3.90" fill="#3bb24c" stroke="#33af44" stroke-width="0.9"/>
<circle cx="281.7" cy="523.8" r="3.90" fill="#3bb24c" stroke="#33af44" stroke-width="0.9"/>
<circle cx="286.7" cy="523.8" r="3.90" fill="#3bb24c" stroke="#33af44" stroke-width="0.9"/>
<circle cx="297.3" cy="523.8" r="3.90" fill="#3bb24c" stroke="#33af44" stroke-width="0.9"/>
<circle cx="309.9" cy="523.8" r="3.90" fill="#3bb24c" stroke="#33af44" stroke-width="0.9"/>
<circle cx="315.2" cy="523.8" r="3.90" fill="#3bb24c" stroke="#33af44" stroke-width="0.9"/>
<circle cx="263.4" cy="538.9" r="3.90" fill="#3bb24c" stroke="#33af44" stroke-width="0.9"/>
<circle cx="267.0" cy="538.9" r="3.90" fill="#3bb24c" stroke="#33af44" stroke-width="0.9"/>
<circle cx="270.6" cy="538.9" r="3.90" fill="#3bb24c" stroke="#33af44" stroke-width="0.9"/>
<circle cx="274.2" cy="538.9" r="3.90" fill="#3bb24c" stroke="#33af44" stroke-width="0.9"/>
<circle cx="284.3" cy="538.9" r="3.90" fill="#3bb24c" stroke="#33af44" stroke-width="0.9"/>
<circle cx="286.3" cy="538.9" r="3.90" fill="#3bb24c" stroke="#33af44" stroke-width="0.9"/>
<circle cx="297.6" cy="538.9" r="3.90" fill="#3bb24c" stroke="#33af44" stroke-width="0.9"/>
<circle cx="302.3" cy="538.9" r="3.90" fill="#3bb24c" stroke="#33af44" stroke-width="0.9"/>
<circle cx="306.9" cy="538.9" r="3.90" fill="#3bb24c" stroke="#33af44" stroke-width="0.9"/>
<circle cx="311.6" cy="538.9" r="3.90" fill="#3bb24c" stroke="#33af44" stroke-width="0.9"/>
<circle cx="264.5" cy="553.9" r="3.90" fill="#3bb24c" stroke="#33af44" stroke-width="0.9"/>
<circle cx="275.5" cy="553.9" r="3.90" fill="#3bb24c" stroke="#33af44" stroke-width="0.9"/>
<circle cx="279.5" cy="553.9" r="3.90" fill="#3bb24c" stroke="#33af44" stroke-width="0.9"/>
<circle cx="283.4" cy="553.9" r="3.90" fill="#3bb24c" stroke="#33af44" stroke-width="0.9"/>
<circle cx="287.4" cy="553.9" r="3.90" fill="#3bb24c" stroke="#33af44" stroke-width="0.9"/>
<circle cx="307.8" cy="553.9" r="3.90" fill="#3bb24c" stroke="#33af44" stroke-width="0.9"/>
<circle cx="270.2" cy="569.0" r="3.90" fill="#3bb24c" stroke="#33af44" stroke-width="0.9"/>
<circle cx="274.9" cy="569.0" r="3.90" fill="#3bb24c" stroke="#33af44" stroke-width="0.9"/>
<circle cx="279.6" cy="569.0" r="3.90" fill="#3bb24c" stroke="#33af44" stroke-width="0.9"/>
<circle cx="284.3" cy="569.0" r="3.90" fill="#3bb24c" stroke="#33af44" stroke-width="0.9"/>
<circle cx="289.0" cy="569.0" r="3.90" fill="#3bb24c" stroke="#33af44" stroke-width="0.9"/>
<circle cx="293.7" cy="569.0" r="3.90" fill="#3bb24c" stroke="#33af44" stroke-width="0.9"/>
<circle cx="298.4" cy="569.0" r="3.90" fill="#3bb24c" stroke="#33af44" stroke-width="0.9"/>
<circle cx="310.5" cy="569.0" r="3.90" fill="#3bb24c" stroke="#33af44" stroke-width="0.9"/>
<circle cx="312.0" cy="569.0" r="3.90" fill="#3bb24c" stroke="#33af44" stroke-width="0.9"/>
<circle cx="261.3" cy="584.0" r="3.90" fill="#3bb24c" stroke="#33af44" stroke-width="0.9"/>
<circle cx="266.1" cy="584.0" r="3.90" fill="#3bb24c" stroke="#33af44" stroke-width="0.9"/>
<circle cx="270.9" cy="584.0" r="3.90" fill="#3bb24c" stroke="#33af44" stroke-width="0.9"/>
<circle cx="275.6" cy="584.0" r="3.90" fill="#3bb24c" stroke="#33af44" stroke-width="0.9"/>
<circle cx="280.4" cy="584.0" r="3.90" fill="#3bb24c" stroke="#33af44" stroke-width="0.9"/>
<circle cx="296.5" cy="584.0" r="3.90" fill="#3bb24c" stroke="#33af44" stroke-width="0.9"/>
<circle cx="298.1" cy="584.0" r="3.90" fill="#3bb24c" stroke="#33af44" stroke-width="0.9"/>
<circle cx="315.2" cy="584.0" r="3.90" fill="#3bb24c" stroke="#33af44" stroke-width="0.9"/>
<circle cx="269.1" cy="599.0" r="3.90" fill="#3bb24c" stroke="#33af44" stroke-width="0.9"/>
<circle cx="273.9" cy="599.0" r="3.90" fill="#3bb24c" stroke="#33af44" stroke-width="0.9"/>
<circle cx="278.6" cy="599.0" r="3.90" fill="#3bb24c" stroke="#33af44" stroke-width="0.9"/>
<circle cx="288.6" cy="599.0" r="3.90" fill="#3bb24c" stroke="#33af44" stroke-width="0.9"/>
<circle cx="298.0" cy="599.0" r="3.90" fill="#3bb24c" stroke="#33af44" stroke-width="0.9"/>
<circle cx="302.3" cy="599.0" r="3.90" fill="#3bb24c" stroke="#33af44" stroke-width="0.9"/>
<circle cx="306.6" cy="599.0" r="3.90" fill="#3bb24c" stroke="#33af44" stroke-width="0.9"/>
<circle cx="310.9" cy="599.0" r="3.90" fill="#3bb24c" stroke="#33af44" stroke-width="0.9"/>
<circle cx="265.0" cy="614.1" r="3.90" fill="#3bb24c" stroke="#33af44" stroke-width="0.9"/>
<circle cx="269.6" cy="614.1" r="3.90" fill="#3bb24c" stroke="#33af44" stroke-width="0.9"/>
<circle cx="274.2" cy="614.1" r="3.90" fill="#3bb24c" stroke="#33af44" stroke-width="0.9"/>
<circle cx="278.8" cy="614.1" r="3.90" fill="#3bb24c" stroke="#33af44" stroke-width="0.9"/>
<circle cx="283.3" cy="614.1" r="3.90" fill="#3bb24c" stroke="#33af44" stroke-width="0.9"/>
<circle cx="287.9" cy="614.1" r="3.90" fill="#3bb24c" stroke="#33af44" stroke-width="0.9"/>
<circle cx="292.5" cy="614.1" r="3.90" fill="#3bb24c" stroke="#33af44" stroke-width="0.9"/>
<circle cx="260.3" cy="629.1" r="3.90" fill="#3bb24c" stroke="#33af44" stroke-width="0.9"/>
<circle cx="263.0" cy="629.1" r="3.90" fill="#3bb24c" stroke="#33af44" stroke-width="0.9"/>
<circle cx="283.3" cy="629.1" r="3.90" fill="#3bb24c" stroke="#33af44" stroke-width="0.9"/>
<circle cx="296.5" cy="629.1" r="3.90" fill="#3bb24c" stroke="#33af44" stroke-width="0.9"/>
<circle cx="298.4" cy="629.1" r="3.90" fill="#3bb24c" stroke="#33af44" stroke-width="0.9"/>
<circle cx="308.5" cy="629.1" r="3.90" fill="#3bb24c" stroke="#33af44" stroke-width="0.9"/>
<circle cx="311.2" cy="629.1" r="3.90" fill="#3bb24c" stroke="#33af44" stroke-width="0.9"/>
<circle cx="264.5" cy="644.2" r="3.90" fill="#3bb24c" stroke="#33af44" stroke-width="0.9"/>
<circle cx="275.1" cy="644.2" r="3.90" fill="#3bb24c" stroke="#33af44" stroke-width="0.9"/>
<circle cx="280.5" cy="644.2" r="3.90" fill="#3bb24c" stroke="#33af44" stroke-width="0.9"/>
<circle cx="285.8" cy="644.2" r="3.90" fill="#3bb24c" stroke="#33af44" stroke-width="0.9"/>
<circle cx="302.2" cy="644.2" r="3.90" fill="#3bb24c" stroke="#33af44" stroke-width="0.9"/>
<circle cx="311.6" cy="644.2" r="3.90" fill="#3bb24c" stroke="#33af44" stroke-width="0.9"/>
<circle cx="274.9" cy="659.2" r="3.90" fill="#3bb24c" stroke="#33af44" stroke-width="0.9"/>
<circle cx="288.2" cy="659.2" r="3.90" fill="#3bb24c" stroke="#33af44" stroke-width="0.9"/>
<circle cx="297.2" cy="659.2" r="3.90" fill="#3bb24c" stroke="#33af44" stroke-width="0.9"/>
<circle cx="306.0" cy="659.2" r="3.90" fill="#3bb24c" stroke="#33af44" stroke-width="0.9"/>
<circle cx="261.7" cy="674.3" r="3.90" fill="#3bb24c" stroke="#33af44" stroke-width="0.9"/>
<circle cx="265.7" cy="674.3" r="3.90" fill="#3bb24c" stroke="#33af44" stroke-width="0.9"/>
<circle cx="269.7" cy="674.3" r="3.90" fill="#3bb24c" stroke="#33af44" stroke-width="0.9"/>
<circle cx="417.9" cy="418.4" r="3.90" fill="#c81332" stroke="#c60a2e" stroke-width="0.9"/>
<circle cx="430.0" cy="418.4" r="3.90" fill="#c81332" stroke="#c60a2e" stroke-width="0.9"/>
<circle cx="445.8" cy="418.4" r="3.90" fill="#c81332" stroke="#c60a2e" stroke-width="0.9"/>
<circle cx="409.8" cy="433.5" r="3.90" fill="#c81332" stroke="#c60a2e" stroke-width="0.9"/>
<circle cx="423.7" cy="433.5" r="3.90" fill="#c81332" stroke="#c60a2e" stroke-width="0.9"/>
<circle cx="434.5" cy="433.5" r="3.90" fill="#c81332" stroke="#c60a2e" stroke-width="0.9"/>
<circle cx="406.7" cy="448.6" r="3.90" fill="#c81332" stroke="#c60a2e" stroke-width="0.9"/>
<circle cx="412.1" cy="448.6" r="3.90" fill="#c81332" stroke="#c60a2e" stroke-width="0.9"/>
<circle cx="417.4" cy="448.6" r="3.90" fill="#c81332" stroke="#c60a2e" stroke-width="0.9"/>
<circle cx="422.8" cy="448.6" r="3.90" fill="#c81332" stroke="#c60a2e" stroke-width="0.9"/>
<circle cx="428.1" cy="448.6" r="3.90" fill="#c81332" stroke="#c60a2e" stroke-width="0.9"/>
<circle cx="433.4" cy="448.6" r="3.90" fill="#c81332" stroke="#c60a2e" stroke-width="0.9"/>
<circle cx="438.8" cy="448.6" r="3.90" fill="#c81332" stroke="#c60a2e" stroke-width="0.9"/>
<circle cx="444.1" cy="448.6" r="3.90" fill="#c81332" stroke="#c60a2e" stroke-width="0.9"/>
<circle cx="449.5" cy="448.6" r="3.90" fill="#c81332" stroke="#c60a2e" stroke-width="0.9"/>
<circle cx="406.7" cy="463.6" r="3.90" fill="#c81332" stroke="#c60a2e" stroke-width="0.9"/>
<circle cx="411.3" cy="463.6" r="3.90" fill="#c81332" stroke="#c60a2e" stroke-width="0.9"/>
<circle cx="415.9" cy="463.6" r="3.90" fill="#c81332" stroke="#c60a2e" stroke-width="0.9"/>
<circle cx="420.4" cy="463.6" r="3.90" fill="#c81332" stroke="#c60a2e" stroke-width="0.9"/>
<circle cx="425.0" cy="463.6" r="3.90" fill="#c81332" stroke="#c60a2e" stroke-width="0.9"/>
<circle cx="437.4" cy="463.6" r="3.90" fill="#c81332" stroke="#c60a2e" stroke-width="0.9"/>
<circle cx="439.8" cy="463.6" r="3.90" fill="#c81332" stroke="#c60a2e" stroke-width="0.9"/>
<circle cx="452.0" cy="463.6" r="3.90" fill="#c81332" stroke="#c60a2e" stroke-width="0.9"/>
<circle cx="413.9" cy="478.6" r="3.90" fill="#c81332" stroke="#c60a2e" stroke-width="0.9"/>
<circle cx="424.2" cy="478.6" r="3.90" fill="#c81332" stroke="#c60a2e" stroke-width="0.9"/>
<circle cx="428.7" cy="478.6" r="3.90" fill="#c81332" stroke="#c60a2e" stroke-width="0.9"/>
<circle cx="433.2" cy="478.6" r="3.90" fill="#c81332" stroke="#c60a2e" stroke-width="0.9"/>
<circle cx="437.6" cy="478.6" r="3.90" fill="#c81332" stroke="#c60a2e" stroke-width="0.9"/>
<circle cx="442.1" cy="478.6" r="3.90" fill="#c81332" stroke="#c60a2e" stroke-width="0.9"/>
<circle cx="446.6" cy="478.6" r="3.90" fill="#c81332" stroke="#c60a2e" stroke-width="0.9"/>
<circle cx="421.3" cy="493.7" r="3.90" fill="#c81332" stroke="#c60a2e" stroke-width="0.9"/>
<circle cx="424.4" cy="493.7" r="3.90" fill="#c81332" stroke="#c60a2e" stroke-width="0.9"/>
<circle cx="437.4" cy="493.7" r="3.90" fill="#c81332" stroke="#c60a2e" stroke-width="0.9"/>
<circle cx="441.9" cy="493.7" r="3.90" fill="#c81332" stroke="#c60a2e" stroke-width="0.9"/>
<circle cx="446.3" cy="493.7" r="3.90" fill="#c81332" stroke="#c60a2e" stroke-width="0.9"/>
<circle cx="399.3" cy="508.8" r="3.90" fill="#c81332" stroke="#c60a2e" stroke-width="0.9"/>
<circle cx="402.8" cy="508.8" r="3.90" fill="#c81332" stroke="#c60a2e" stroke-width="0.9"/>
<circle cx="417.5" cy="508.8" r="3.90" fill="#c81332" stroke="#c60a2e" stroke-width="0.9"/>
<circle cx="420.9" cy="508.8" r="3.90" fill="#c81332" stroke="#c60a2e" stroke-width="0.9"/>
<circle cx="424.4" cy="508.8" r="3.90" fill="#c81332" stroke="#c60a2e" stroke-width="0.9"/>
<circle cx="437.4" cy="508.8" r="3.90" fill="#c81332" stroke="#c60a2e" stroke-width="0.9"/>
<circle cx="441.0" cy="508.8" r="3.90" fill="#c81332" stroke="#c60a2e" stroke-width="0.9"/>
<circle cx="447.5" cy="508.8" r="3.90" fill="#c81332" stroke="#c60a2e" stroke-width="0.9"/>
<circle cx="405.7" cy="523.8" r="3.90" fill="#c81332" stroke="#c60a2e" stroke-width="0.9"/>
<circle cx="410.8" cy="523.8" r="3.90" fill="#c81332" stroke="#c60a2e" stroke-width="0.9"/>
<circle cx="415.9" cy="523.8" r="3.90" fill="#c81332" stroke="#c60a2e" stroke-width="0.9"/>
<circle cx="421.0" cy="523.8" r="3.90" fill="#c81332" stroke="#c60a2e" stroke-width="0.9"/>
<circle cx="447.1" cy="523.8" r="3.90" fill="#c81332" stroke="#c60a2e" stroke-width="0.9"/>
<circle cx="448.7" cy="523.8" r="3.90" fill="#c81332" stroke="#c60a2e" stroke-width="0.9"/>
<circle cx="414.8" cy="538.9" r="3.90" fill="#c81332" stroke="#c60a2e" stroke-width="0.9"/>
<circle cx="435.8" cy="538.9" r="3.90" fill="#c81332" stroke="#c60a2e" stroke-width="0.9"/>
<circle cx="447.1" cy="538.9" r="3.90" fill="#c81332" stroke="#c60a2e" stroke-width="0.9"/>
<circle cx="412.1" cy="553.9" r="3.90" fill="#c81332" stroke="#c60a2e" stroke-width="0.9"/>
<circle cx="426.0" cy="553.9" r="3.90" fill="#c81332" stroke="#c60a2e" stroke-width="0.9"/>
<circle cx="429.3" cy="553.9" r="3.90" fill="#c81332" stroke="#c60a2e" stroke-width="0.9"/>
<circle cx="422.2" cy="569.0" r="3.90" fill="#c81332" stroke="#c60a2e" stroke-width="0.9"/>
<circle cx="447.5" cy="569.0" r="3.90" fill="#c81332" stroke="#c60a2e" stroke-width="0.9"/>
<circle cx="415.9" cy="584.0" r="3.90" fill="#c81332" stroke="#c60a2e" stroke-width="0.9"/>
<circle cx="447.4" cy="584.0" r="3.90" fill="#c81332" stroke="#c60a2e" stroke-width="0.9"/>
<circle cx="450.5" cy="584.0" r="3.90" fill="#c81332" stroke="#c60a2e" stroke-width="0.9"/>
<circle cx="453.6" cy="584.0" r="3.90" fill="#c81332" stroke="#c60a2e" stroke-width="0.9"/>
<circle cx="413.9" cy="599.0" r="3.90" fill="#c81332" stroke="#c60a2e" stroke-width="0.9"/>
<circle cx="417.8" cy="614.1" r="3.90" fill="#c81332" stroke="#c60a2e" stroke-width="0.9"/>
<circle cx="422.8" cy="614.1" r="3.90" fill="#c81332" stroke="#c60a2e" stroke-width="0.9"/>
<circle cx="427.8" cy="614.1" r="3.90" fill="#c81332" stroke="#c60a2e" stroke-width="0.9"/>
<circle cx="432.8" cy="614.1" r="3.90" fill="#c81332" stroke="#c60a2e" stroke-width="0.9"/>
<circle cx="418.3" cy="644.2" r="3.90" fill="#c81332" stroke="#c60a2e" stroke-width="0.9"/>
<line x1="72" y1="408.30" x2="72" y2="685.40" stroke="#000" stroke-width="2"/>
<line x1="71" y1="684.40" x2="506" y2="684.40" stroke="#000" stroke-width="2"/>
<line x1="65.2" y1="433.50" x2="72" y2="433.50" stroke="#000" stroke-width="1.5"/>
<text x="60" y="438.70" font-size="16" text-anchor="end">20</text>
<line x1="65.2" y1="508.75" x2="72" y2="508.75" stroke="#000" stroke-width="1.5"/>
<text x="60" y="513.95" font-size="16" text-anchor="end">15</text>
<line x1="65.2" y1="584.00" x2="72" y2="584.00" stroke="#000" stroke-width="1.5"/>
<text x="60" y="589.20" font-size="16" text-anchor="end">10</text>
<line x1="65.2" y1="659.25" x2="72" y2="659.25" stroke="#000" stroke-width="1.5"/>
<text x="60" y="664.45" font-size="16" text-anchor="end">5</text>
<line x1="151.00" y1="684.40" x2="151.00" y2="690.40" stroke="#000" stroke-width="1.5"/>
<text x="151.00" y="709.10" font-size="15.5" text-anchor="middle">Mild</text>
<line x1="289.50" y1="684.40" x2="289.50" y2="690.40" stroke="#000" stroke-width="1.5"/>
<text x="289.50" y="709.10" font-size="15.5" text-anchor="middle">Moderate</text>
<line x1="428.00" y1="684.40" x2="428.00" y2="690.40" stroke="#000" stroke-width="1.5"/>
<text x="428.00" y="709.10" font-size="15.5" text-anchor="middle">Severe</text>
<text x="218.70" y="735.80" font-size="19" textLength="24.30" lengthAdjust="spacingAndGlyphs" stroke="#000" stroke-width="0.45">HHT</text>
<text x="247.90" y="735.80" font-size="19" textLength="62.30" lengthAdjust="spacingAndGlyphs" stroke="#000" stroke-width="0.45">self-report</text>
<text x="313.60" y="735.80" font-size="19" textLength="46.60" lengthAdjust="spacingAndGlyphs" stroke="#000" stroke-width="0.45">severity</text>
<text transform="translate(28.00,606.70) rotate(-90)" x="0" y="0" font-size="19" textLength="25.20" lengthAdjust="spacingAndGlyphs" stroke="#000" stroke-width="0.45">HHT</text>
<text transform="translate(28.00,576.90) rotate(-90)" x="0" y="0" font-size="19" textLength="24.40" lengthAdjust="spacingAndGlyphs" stroke="#000" stroke-width="0.45">QOL</text>
<text transform="translate(28.00,549.00) rotate(-90)" x="0" y="0" font-size="19" textLength="25.10" lengthAdjust="spacingAndGlyphs" stroke="#000" stroke-width="0.45">sum</text>
<text transform="translate(28.00,519.80) rotate(-90)" x="0" y="0" font-size="19" textLength="32.70" lengthAdjust="spacingAndGlyphs" stroke="#000" stroke-width="0.45">score</text>
<text x="13.8" y="408.20" font-size="23" font-weight="bold" stroke="#000" stroke-width="0.7">B</text>
<rect x="96.50" y="962.55" width="109.00" height="74.38" fill="#8aa8c2" stroke="#7f9ebb" stroke-width="1"/>
<line x1="96.00" y1="1007.27" x2="206.00" y2="1007.27" stroke="#000" stroke-width="2"/>
<line x1="151.00" y1="886.67" x2="151.00" y2="962.05" stroke="#000" stroke-width="1.6"/>
<line x1="151.00" y1="1037.42" x2="151.00" y2="1052.50" stroke="#000" stroke-width="1.6"/>
<line x1="123.50" y1="886.67" x2="178.50" y2="886.67" stroke="#000" stroke-width="1.6"/>
<line x1="123.50" y1="1052.50" x2="178.50" y2="1052.50" stroke="#000" stroke-width="1.6"/>
<rect x="235.00" y="887.17" width="109.00" height="89.45" fill="#9fdaa6" stroke="#93d49c" stroke-width="1"/>
<line x1="234.50" y1="931.90" x2="344.50" y2="931.90" stroke="#000" stroke-width="2"/>
<line x1="289.50" y1="796.22" x2="289.50" y2="886.67" stroke="#000" stroke-width="1.6"/>
<line x1="289.50" y1="977.12" x2="289.50" y2="1052.50" stroke="#000" stroke-width="1.6"/>
<line x1="262.00" y1="796.22" x2="317.00" y2="796.22" stroke="#000" stroke-width="1.6"/>
<line x1="262.00" y1="1052.50" x2="317.00" y2="1052.50" stroke="#000" stroke-width="1.6"/>
<rect x="373.50" y="841.95" width="109.00" height="74.38" fill="#e0899a" stroke="#da8294" stroke-width="1"/>
<line x1="373.00" y1="871.60" x2="483.00" y2="871.60" stroke="#000" stroke-width="2"/>
<line x1="428.00" y1="796.22" x2="428.00" y2="841.45" stroke="#000" stroke-width="1.6"/>
<line x1="428.00" y1="916.82" x2="428.00" y2="1022.35" stroke="#000" stroke-width="1.6"/>
<line x1="400.50" y1="796.22" x2="455.50" y2="796.22" stroke="#000" stroke-width="1.6"/>
<line x1="400.50" y1="1022.35" x2="455.50" y2="1022.35" stroke="#000" stroke-width="1.6"/>
<circle cx="167.9" cy="886.7" r="3.90" fill="#18558b" stroke="#135089" stroke-width="0.9"/>
<circle cx="172.6" cy="916.8" r="3.90" fill="#18558b" stroke="#135089" stroke-width="0.9"/>
<circle cx="128.5" cy="931.9" r="3.90" fill="#18558b" stroke="#135089" stroke-width="0.9"/>
<circle cx="131.2" cy="931.9" r="3.90" fill="#18558b" stroke="#135089" stroke-width="0.9"/>
<circle cx="134.0" cy="931.9" r="3.90" fill="#18558b" stroke="#135089" stroke-width="0.9"/>
<circle cx="150.0" cy="931.9" r="3.90" fill="#18558b" stroke="#135089" stroke-width="0.9"/>
<circle cx="172.6" cy="931.9" r="3.90" fill="#18558b" stroke="#135089" stroke-width="0.9"/>
<circle cx="124.3" cy="947.0" r="3.90" fill="#18558b" stroke="#135089" stroke-width="0.9"/>
<circle cx="128.5" cy="947.0" r="3.90" fill="#18558b" stroke="#135089" stroke-width="0.9"/>
<circle cx="132.7" cy="947.0" r="3.90" fill="#18558b" stroke="#135089" stroke-width="0.9"/>
<circle cx="143.3" cy="947.0" r="3.90" fill="#18558b" stroke="#135089" stroke-width="0.9"/>
<circle cx="158.4" cy="947.0" r="3.90" fill="#18558b" stroke="#135089" stroke-width="0.9"/>
<circle cx="159.6" cy="947.0" r="3.90" fill="#18558b" stroke="#135089" stroke-width="0.9"/>
<circle cx="124.2" cy="962.0" r="3.90" fill="#18558b" stroke="#135089" stroke-width="0.9"/>
<circle cx="137.2" cy="962.0" r="3.90" fill="#18558b" stroke="#135089" stroke-width="0.9"/>
<circle cx="148.3" cy="962.0" r="3.90" fill="#18558b" stroke="#135089" stroke-width="0.9"/>
<circle cx="153.4" cy="962.0" r="3.90" fill="#18558b" stroke="#135089" stroke-width="0.9"/>
<circle cx="158.5" cy="962.0" r="3.90" fill="#18558b" stroke="#135089" stroke-width="0.9"/>
<circle cx="172.8" cy="962.0" r="3.90" fill="#18558b" stroke="#135089" stroke-width="0.9"/>
<circle cx="174.4" cy="962.0" r="3.90" fill="#18558b" stroke="#135089" stroke-width="0.9"/>
<circle cx="124.0" cy="977.1" r="3.90" fill="#18558b" stroke="#135089" stroke-width="0.9"/>
<circle cx="134.8" cy="977.1" r="3.90" fill="#18558b" stroke="#135089" stroke-width="0.9"/>
<circle cx="139.4" cy="977.1" r="3.90" fill="#18558b" stroke="#135089" stroke-width="0.9"/>
<circle cx="153.1" cy="977.1" r="3.90" fill="#18558b" stroke="#135089" stroke-width="0.9"/>
<circle cx="155.8" cy="977.1" r="3.90" fill="#18558b" stroke="#135089" stroke-width="0.9"/>
<circle cx="169.8" cy="977.1" r="3.90" fill="#18558b" stroke="#135089" stroke-width="0.9"/>
<circle cx="173.6" cy="977.1" r="3.90" fill="#18558b" stroke="#135089" stroke-width="0.9"/>
<circle cx="177.3" cy="977.1" r="3.90" fill="#18558b" stroke="#135089" stroke-width="0.9"/>
<circle cx="156.3" cy="992.2" r="3.90" fill="#18558b" stroke="#135089" stroke-width="0.9"/>
<circle cx="161.6" cy="992.2" r="3.90" fill="#18558b" stroke="#135089" stroke-width="0.9"/>
<circle cx="166.8" cy="992.2" r="3.90" fill="#18558b" stroke="#135089" stroke-width="0.9"/>
<circle cx="178.0" cy="992.2" r="3.90" fill="#18558b" stroke="#135089" stroke-width="0.9"/>
<circle cx="127.0" cy="1007.3" r="3.90" fill="#18558b" stroke="#135089" stroke-width="0.9"/>
<circle cx="131.3" cy="1007.3" r="3.90" fill="#18558b" stroke="#135089" stroke-width="0.9"/>
<circle cx="135.6" cy="1007.3" r="3.90" fill="#18558b" stroke="#135089" stroke-width="0.9"/>
<circle cx="139.9" cy="1007.3" r="3.90" fill="#18558b" stroke="#135089" stroke-width="0.9"/>
<circle cx="149.3" cy="1007.3" r="3.90" fill="#18558b" stroke="#135089" stroke-width="0.9"/>
<circle cx="171.1" cy="1007.3" r="3.90" fill="#18558b" stroke="#135089" stroke-width="0.9"/>
<circle cx="174.2" cy="1007.3" r="3.90" fill="#18558b" stroke="#135089" stroke-width="0.9"/>
<circle cx="177.3" cy="1007.3" r="3.90" fill="#18558b" stroke="#135089" stroke-width="0.9"/>
<circle cx="127.8" cy="1022.3" r="3.90" fill="#18558b" stroke="#135089" stroke-width="0.9"/>
<circle cx="131.3" cy="1022.3" r="3.90" fill="#18558b" stroke="#135089" stroke-width="0.9"/>
<circle cx="160.6" cy="1022.3" r="3.90" fill="#18558b" stroke="#135089" stroke-width="0.9"/>
<circle cx="165.4" cy="1022.3" r="3.90" fill="#18558b" stroke="#135089" stroke-width="0.9"/>
<circle cx="170.1" cy="1022.3" r="3.90" fill="#18558b" stroke="#135089" stroke-width="0.9"/>
<circle cx="174.9" cy="1022.3" r="3.90" fill="#18558b" stroke="#135089" stroke-width="0.9"/>
<circle cx="137.2" cy="1037.4" r="3.90" fill="#18558b" stroke="#135089" stroke-width="0.9"/>
<circle cx="146.2" cy="1037.4" r="3.90" fill="#18558b" stroke="#135089" stroke-width="0.9"/>
<circle cx="150.0" cy="1037.4" r="3.90" fill="#18558b" stroke="#135089" stroke-width="0.9"/>
<circle cx="153.8" cy="1037.4" r="3.90" fill="#18558b" stroke="#135089" stroke-width="0.9"/>
<circle cx="164.1" cy="1037.4" r="3.90" fill="#18558b" stroke="#135089" stroke-width="0.9"/>
<circle cx="168.6" cy="1037.4" r="3.90" fill="#18558b" stroke="#135089" stroke-width="0.9"/>
<circle cx="135.9" cy="1052.5" r="3.90" fill="#18558b" stroke="#135089" stroke-width="0.9"/>
<circle cx="139.1" cy="1052.5" r="3.90" fill="#18558b" stroke="#135089" stroke-width="0.9"/>
<circle cx="142.3" cy="1052.5" r="3.90" fill="#18558b" stroke="#135089" stroke-width="0.9"/>
<circle cx="152.0" cy="1052.5" r="3.90" fill="#18558b" stroke="#135089" stroke-width="0.9"/>
<circle cx="156.9" cy="1052.5" r="3.90" fill="#18558b" stroke="#135089" stroke-width="0.9"/>
<circle cx="167.1" cy="1052.5" r="3.90" fill="#18558b" stroke="#135089" stroke-width="0.9"/>
<circle cx="172.0" cy="1052.5" r="3.90" fill="#18558b" stroke="#135089" stroke-width="0.9"/>
<circle cx="285.0" cy="796.2" r="3.90" fill="#3bb24c" stroke="#33af44" stroke-width="0.9"/>
<circle cx="295.5" cy="796.2" r="3.90" fill="#3bb24c" stroke="#33af44" stroke-width="0.9"/>
<circle cx="315.0" cy="796.2" r="3.90" fill="#3bb24c" stroke="#33af44" stroke-width="0.9"/>
<circle cx="268.5" cy="826.4" r="3.90" fill="#3bb24c" stroke="#33af44" stroke-width="0.9"/>
<circle cx="302.0" cy="826.4" r="3.90" fill="#3bb24c" stroke="#33af44" stroke-width="0.9"/>
<circle cx="307.1" cy="826.4" r="3.90" fill="#3bb24c" stroke="#33af44" stroke-width="0.9"/>
<circle cx="312.3" cy="826.4" r="3.90" fill="#3bb24c" stroke="#33af44" stroke-width="0.9"/>
<circle cx="264.4" cy="841.4" r="3.90" fill="#3bb24c" stroke="#33af44" stroke-width="0.9"/>
<circle cx="269.4" cy="841.4" r="3.90" fill="#3bb24c" stroke="#33af44" stroke-width="0.9"/>
<circle cx="274.3" cy="841.4" r="3.90" fill="#3bb24c" stroke="#33af44" stroke-width="0.9"/>
<circle cx="279.3" cy="841.4" r="3.90" fill="#3bb24c" stroke="#33af44" stroke-width="0.9"/>
<circle cx="293.0" cy="841.4" r="3.90" fill="#3bb24c" stroke="#33af44" stroke-width="0.9"/>
<circle cx="269.9" cy="856.5" r="3.90" fill="#3bb24c" stroke="#33af44" stroke-width="0.9"/>
<circle cx="284.3" cy="856.5" r="3.90" fill="#3bb24c" stroke="#33af44" stroke-width="0.9"/>
<circle cx="289.6" cy="856.5" r="3.90" fill="#3bb24c" stroke="#33af44" stroke-width="0.9"/>
<circle cx="294.8" cy="856.5" r="3.90" fill="#3bb24c" stroke="#33af44" stroke-width="0.9"/>
<circle cx="315.2" cy="856.5" r="3.90" fill="#3bb24c" stroke="#33af44" stroke-width="0.9"/>
<circle cx="268.0" cy="871.6" r="3.90" fill="#3bb24c" stroke="#33af44" stroke-width="0.9"/>
<circle cx="272.8" cy="871.6" r="3.90" fill="#3bb24c" stroke="#33af44" stroke-width="0.9"/>
<circle cx="277.5" cy="871.6" r="3.90" fill="#3bb24c" stroke="#33af44" stroke-width="0.9"/>
<circle cx="282.3" cy="871.6" r="3.90" fill="#3bb24c" stroke="#33af44" stroke-width="0.9"/>
<circle cx="303.8" cy="871.6" r="3.90" fill="#3bb24c" stroke="#33af44" stroke-width="0.9"/>
<circle cx="269.3" cy="886.7" r="3.90" fill="#3bb24c" stroke="#33af44" stroke-width="0.9"/>
<circle cx="273.3" cy="886.7" r="3.90" fill="#3bb24c" stroke="#33af44" stroke-width="0.9"/>
<circle cx="277.3" cy="886.7" r="3.90" fill="#3bb24c" stroke="#33af44" stroke-width="0.9"/>
<circle cx="289.0" cy="886.7" r="3.90" fill="#3bb24c" stroke="#33af44" stroke-width="0.9"/>
<circle cx="293.2" cy="886.7" r="3.90" fill="#3bb24c" stroke="#33af44" stroke-width="0.9"/>
<circle cx="297.3" cy="886.7" r="3.90" fill="#3bb24c" stroke="#33af44" stroke-width="0.9"/>
<circle cx="301.5" cy="886.7" r="3.90" fill="#3bb24c" stroke="#33af44" stroke-width="0.9"/>
<circle cx="266.4" cy="901.8" r="3.90" fill="#3bb24c" stroke="#33af44" stroke-width="0.9"/>
<circle cx="271.7" cy="901.8" r="3.90" fill="#3bb24c" stroke="#33af44" stroke-width="0.9"/>
<circle cx="277.1" cy="901.8" r="3.90" fill="#3bb24c" stroke="#33af44" stroke-width="0.9"/>
<circle cx="282.4" cy="901.8" r="3.90" fill="#3bb24c" stroke="#33af44" stroke-width="0.9"/>
<circle cx="287.8" cy="901.8" r="3.90" fill="#3bb24c" stroke="#33af44" stroke-width="0.9"/>
<circle cx="293.1" cy="901.8" r="3.90" fill="#3bb24c" stroke="#33af44" stroke-width="0.9"/>
<circle cx="298.5" cy="901.8" r="3.90" fill="#3bb24c" stroke="#33af44" stroke-width="0.9"/>
<circle cx="303.8" cy="901.8" r="3.90" fill="#3bb24c" stroke="#33af44" stroke-width="0.9"/>
<circle cx="317.0" cy="901.8" r="3.90" fill="#3bb24c" stroke="#33af44" stroke-width="0.9"/>
<circle cx="271.2" cy="916.8" r="3.90" fill="#3bb24c" stroke="#33af44" stroke-width="0.9"/>
<circle cx="281.5" cy="916.8" r="3.90" fill="#3bb24c" stroke="#33af44" stroke-width="0.9"/>
<circle cx="286.3" cy="916.8" r="3.90" fill="#3bb24c" stroke="#33af44" stroke-width="0.9"/>
<circle cx="291.2" cy="916.8" r="3.90" fill="#3bb24c" stroke="#33af44" stroke-width="0.9"/>
<circle cx="296.0" cy="916.8" r="3.90" fill="#3bb24c" stroke="#33af44" stroke-width="0.9"/>
<circle cx="300.9" cy="916.8" r="3.90" fill="#3bb24c" stroke="#33af44" stroke-width="0.9"/>
<circle cx="305.7" cy="916.8" r="3.90" fill="#3bb24c" stroke="#33af44" stroke-width="0.9"/>
<circle cx="310.6" cy="916.8" r="3.90" fill="#3bb24c" stroke="#33af44" stroke-width="0.9"/>
<circle cx="315.4" cy="916.8" r="3.90" fill="#3bb24c" stroke="#33af44" stroke-width="0.9"/>
<circle cx="281.6" cy="931.9" r="3.90" fill="#3bb24c" stroke="#33af44" stroke-width="0.9"/>
<circle cx="290.6" cy="931.9" r="3.90" fill="#3bb24c" stroke="#33af44" stroke-width="0.9"/>
<circle cx="294.7" cy="931.9" r="3.90" fill="#3bb24c" stroke="#33af44" stroke-width="0.9"/>
<circle cx="298.8" cy="931.9" r="3.90" fill="#3bb24c" stroke="#33af44" stroke-width="0.9"/>
<circle cx="302.8" cy="931.9" r="3.90" fill="#3bb24c" stroke="#33af44" stroke-width="0.9"/>
<circle cx="306.9" cy="931.9" r="3.90" fill="#3bb24c" stroke="#33af44" stroke-width="0.9"/>
<circle cx="263.4" cy="947.0" r="3.90" fill="#3bb24c" stroke="#33af44" stroke-width="0.9"/>
<circle cx="268.6" cy="947.0" r="3.90" fill="#3bb24c" stroke="#33af44" stroke-width="0.9"/>
<circle cx="273.8" cy="947.0" r="3.90" fill="#3bb24c" stroke="#33af44" stroke-width="0.9"/>
<circle cx="279.1" cy="947.0" r="3.90" fill="#3bb24c" stroke="#33af44" stroke-width="0.9"/>
<circle cx="284.3" cy="947.0" r="3.90" fill="#3bb24c" stroke="#33af44" stroke-width="0.9"/>
<circle cx="289.5" cy="947.0" r="3.90" fill="#3bb24c" stroke="#33af44" stroke-width="0.9"/>
<circle cx="294.7" cy="947.0" r="3.90" fill="#3bb24c" stroke="#33af44" stroke-width="0.9"/>
<circle cx="299.9" cy="947.0" r="3.90" fill="#3bb24c" stroke="#33af44" stroke-width="0.9"/>
<circle cx="305.2" cy="947.0" r="3.90" fill="#3bb24c" stroke="#33af44" stroke-width="0.9"/>
<circle cx="310.4" cy="947.0" r="3.90" fill="#3bb24c" stroke="#33af44" stroke-width="0.9"/>
<circle cx="315.6" cy="947.0" r="3.90" fill="#3bb24c" stroke="#33af44" stroke-width="0.9"/>
<circle cx="270.2" cy="962.0" r="3.90" fill="#3bb24c" stroke="#33af44" stroke-width="0.9"/>
<circle cx="274.8" cy="962.0" r="3.90" fill="#3bb24c" stroke="#33af44" stroke-width="0.9"/>
<circle cx="279.4" cy="962.0" r="3.90" fill="#3bb24c" stroke="#33af44" stroke-width="0.9"/>
<circle cx="283.9" cy="962.0" r="3.90" fill="#3bb24c" stroke="#33af44" stroke-width="0.9"/>
<circle cx="288.5" cy="962.0" r="3.90" fill="#3bb24c" stroke="#33af44" stroke-width="0.9"/>
<circle cx="298.4" cy="962.0" r="3.90" fill="#3bb24c" stroke="#33af44" stroke-width="0.9"/>
<circle cx="303.6" cy="962.0" r="3.90" fill="#3bb24c" stroke="#33af44" stroke-width="0.9"/>
<circle cx="308.8" cy="962.0" r="3.90" fill="#3bb24c" stroke="#33af44" stroke-width="0.9"/>
<circle cx="314.0" cy="962.0" r="3.90" fill="#3bb24c" stroke="#33af44" stroke-width="0.9"/>
<circle cx="268.1" cy="977.1" r="3.90" fill="#3bb24c" stroke="#33af44" stroke-width="0.9"/>
<circle cx="289.5" cy="977.1" r="3.90" fill="#3bb24c" stroke="#33af44" stroke-width="0.9"/>
<circle cx="293.4" cy="977.1" r="3.90" fill="#3bb24c" stroke="#33af44" stroke-width="0.9"/>
<circle cx="302.7" cy="977.1" r="3.90" fill="#3bb24c" stroke="#33af44" stroke-width="0.9"/>
<circle cx="313.2" cy="977.1" r="3.90" fill="#3bb24c" stroke="#33af44" stroke-width="0.9"/>
<circle cx="266.1" cy="992.2" r="3.90" fill="#3bb24c" stroke="#33af44" stroke-width="0.9"/>
<circle cx="270.1" cy="992.2" r="3.90" fill="#3bb24c" stroke="#33af44" stroke-width="0.9"/>
<circle cx="274.2" cy="992.2" r="3.90" fill="#3bb24c" stroke="#33af44" stroke-width="0.9"/>
<circle cx="290.3" cy="992.2" r="3.90" fill="#3bb24c" stroke="#33af44" stroke-width="0.9"/>
<circle cx="295.2" cy="992.2" r="3.90" fill="#3bb24c" stroke="#33af44" stroke-width="0.9"/>
<circle cx="300.0" cy="992.2" r="3.90" fill="#3bb24c" stroke="#33af44" stroke-width="0.9"/>
<circle cx="304.9" cy="992.2" r="3.90" fill="#3bb24c" stroke="#33af44" stroke-width="0.9"/>
<circle cx="315.2" cy="992.2" r="3.90" fill="#3bb24c" stroke="#33af44" stroke-width="0.9"/>
<circle cx="278.5" cy="1007.3" r="3.90" fill="#3bb24c" stroke="#33af44" stroke-width="0.9"/>
<circle cx="282.9" cy="1007.3" r="3.90" fill="#3bb24c" stroke="#33af44" stroke-width="0.9"/>
<circle cx="287.3" cy="1007.3" r="3.90" fill="#3bb24c" stroke="#33af44" stroke-width="0.9"/>
<circle cx="291.8" cy="1007.3" r="3.90" fill="#3bb24c" stroke="#33af44" stroke-width="0.9"/>
<circle cx="296.2" cy="1007.3" r="3.90" fill="#3bb24c" stroke="#33af44" stroke-width="0.9"/>
<circle cx="300.6" cy="1007.3" r="3.90" fill="#3bb24c" stroke="#33af44" stroke-width="0.9"/>
<circle cx="310.5" cy="1007.3" r="3.90" fill="#3bb24c" stroke="#33af44" stroke-width="0.9"/>
<circle cx="262.3" cy="1022.3" r="3.90" fill="#3bb24c" stroke="#33af44" stroke-width="0.9"/>
<circle cx="272.0" cy="1022.3" r="3.90" fill="#3bb24c" stroke="#33af44" stroke-width="0.9"/>
<circle cx="275.8" cy="1022.3" r="3.90" fill="#3bb24c" stroke="#33af44" stroke-width="0.9"/>
<circle cx="279.5" cy="1022.3" r="3.90" fill="#3bb24c" stroke="#33af44" stroke-width="0.9"/>
<circle cx="283.3" cy="1022.3" r="3.90" fill="#3bb24c" stroke="#33af44" stroke-width="0.9"/>
<circle cx="300.3" cy="1022.3" r="3.90" fill="#3bb24c" stroke="#33af44" stroke-width="0.9"/>
<circle cx="304.1" cy="1022.3" r="3.90" fill="#3bb24c" stroke="#33af44" stroke-width="0.9"/>
<circle cx="307.8" cy="1022.3" r="3.90" fill="#3bb24c" stroke="#33af44" stroke-width="0.9"/>
<circle cx="274.2" cy="1037.4" r="3.90" fill="#3bb24c" stroke="#33af44" stroke-width="0.9"/>
<circle cx="293.3" cy="1037.4" r="3.90" fill="#3bb24c" stroke="#33af44" stroke-width="0.9"/>
<circle cx="311.5" cy="1037.4" r="3.90" fill="#3bb24c" stroke="#33af44" stroke-width="0.9"/>
<circle cx="314.6" cy="1037.4" r="3.90" fill="#3bb24c" stroke="#33af44" stroke-width="0.9"/>
<circle cx="298.8" cy="1052.5" r="3.90" fill="#3bb24c" stroke="#33af44" stroke-width="0.9"/>
<circle cx="311.2" cy="1052.5" r="3.90" fill="#3bb24c" stroke="#33af44" stroke-width="0.9"/>
<circle cx="409.6" cy="796.2" r="3.90" fill="#c81332" stroke="#c60a2e" stroke-width="0.9"/>
<circle cx="425.0" cy="796.2" r="3.90" fill="#c81332" stroke="#c60a2e" stroke-width="0.9"/>
<circle cx="448.2" cy="796.2" r="3.90" fill="#c81332" stroke="#c60a2e" stroke-width="0.9"/>
<circle cx="402.4" cy="811.3" r="3.90" fill="#c81332" stroke="#c60a2e" stroke-width="0.9"/>
<circle cx="405.6" cy="811.3" r="3.90" fill="#c81332" stroke="#c60a2e" stroke-width="0.9"/>
<circle cx="408.9" cy="811.3" r="3.90" fill="#c81332" stroke="#c60a2e" stroke-width="0.9"/>
<circle cx="417.9" cy="811.3" r="3.90" fill="#c81332" stroke="#c60a2e" stroke-width="0.9"/>
<circle cx="402.4" cy="826.4" r="3.90" fill="#c81332" stroke="#c60a2e" stroke-width="0.9"/>
<circle cx="411.8" cy="826.4" r="3.90" fill="#c81332" stroke="#c60a2e" stroke-width="0.9"/>
<circle cx="419.6" cy="826.4" r="3.90" fill="#c81332" stroke="#c60a2e" stroke-width="0.9"/>
<circle cx="435.3" cy="826.4" r="3.90" fill="#c81332" stroke="#c60a2e" stroke-width="0.9"/>
<circle cx="439.0" cy="826.4" r="3.90" fill="#c81332" stroke="#c60a2e" stroke-width="0.9"/>
<circle cx="442.6" cy="826.4" r="3.90" fill="#c81332" stroke="#c60a2e" stroke-width="0.9"/>
<circle cx="446.3" cy="826.4" r="3.90" fill="#c81332" stroke="#c60a2e" stroke-width="0.9"/>
<circle cx="403.8" cy="841.4" r="3.90" fill="#c81332" stroke="#c60a2e" stroke-width="0.9"/>
<circle cx="408.0" cy="841.4" r="3.90" fill="#c81332" stroke="#c60a2e" stroke-width="0.9"/>
<circle cx="412.1" cy="841.4" r="3.90" fill="#c81332" stroke="#c60a2e" stroke-width="0.9"/>
<circle cx="416.3" cy="841.4" r="3.90" fill="#c81332" stroke="#c60a2e" stroke-width="0.9"/>
<circle cx="425.3" cy="841.4" r="3.90" fill="#c81332" stroke="#c60a2e" stroke-width="0.9"/>
<circle cx="402.2" cy="856.5" r="3.90" fill="#c81332" stroke="#c60a2e" stroke-width="0.9"/>
<circle cx="424.0" cy="856.5" r="3.90" fill="#c81332" stroke="#c60a2e" stroke-width="0.9"/>
<circle cx="427.2" cy="856.5" r="3.90" fill="#c81332" stroke="#c60a2e" stroke-width="0.9"/>
<circle cx="430.4" cy="856.5" r="3.90" fill="#c81332" stroke="#c60a2e" stroke-width="0.9"/>
<circle cx="442.4" cy="856.5" r="3.90" fill="#c81332" stroke="#c60a2e" stroke-width="0.9"/>
<circle cx="446.5" cy="856.5" r="3.90" fill="#c81332" stroke="#c60a2e" stroke-width="0.9"/>
<circle cx="450.6" cy="856.5" r="3.90" fill="#c81332" stroke="#c60a2e" stroke-width="0.9"/>
<circle cx="416.1" cy="871.6" r="3.90" fill="#c81332" stroke="#c60a2e" stroke-width="0.9"/>
<circle cx="419.4" cy="871.6" r="3.90" fill="#c81332" stroke="#c60a2e" stroke-width="0.9"/>
<circle cx="422.6" cy="871.6" r="3.90" fill="#c81332" stroke="#c60a2e" stroke-width="0.9"/>
<circle cx="438.4" cy="871.6" r="3.90" fill="#c81332" stroke="#c60a2e" stroke-width="0.9"/>
<circle cx="441.8" cy="871.6" r="3.90" fill="#c81332" stroke="#c60a2e" stroke-width="0.9"/>
<circle cx="445.2" cy="871.6" r="3.90" fill="#c81332" stroke="#c60a2e" stroke-width="0.9"/>
<circle cx="409.4" cy="886.7" r="3.90" fill="#c81332" stroke="#c60a2e" stroke-width="0.9"/>
<circle cx="429.3" cy="886.7" r="3.90" fill="#c81332" stroke="#c60a2e" stroke-width="0.9"/>
<circle cx="433.8" cy="886.7" r="3.90" fill="#c81332" stroke="#c60a2e" stroke-width="0.9"/>
<circle cx="438.3" cy="886.7" r="3.90" fill="#c81332" stroke="#c60a2e" stroke-width="0.9"/>
<circle cx="442.8" cy="886.7" r="3.90" fill="#c81332" stroke="#c60a2e" stroke-width="0.9"/>
<circle cx="402.2" cy="901.8" r="3.90" fill="#c81332" stroke="#c60a2e" stroke-width="0.9"/>
<circle cx="404.3" cy="901.8" r="3.90" fill="#c81332" stroke="#c60a2e" stroke-width="0.9"/>
<circle cx="424.6" cy="901.8" r="3.90" fill="#c81332" stroke="#c60a2e" stroke-width="0.9"/>
<circle cx="440.4" cy="901.8" r="3.90" fill="#c81332" stroke="#c60a2e" stroke-width="0.9"/>
<circle cx="444.0" cy="901.8" r="3.90" fill="#c81332" stroke="#c60a2e" stroke-width="0.9"/>
<circle cx="447.7" cy="901.8" r="3.90" fill="#c81332" stroke="#c60a2e" stroke-width="0.9"/>
<circle cx="451.3" cy="901.8" r="3.90" fill="#c81332" stroke="#c60a2e" stroke-width="0.9"/>
<circle cx="401.7" cy="916.8" r="3.90" fill="#c81332" stroke="#c60a2e" stroke-width="0.9"/>
<circle cx="417.9" cy="916.8" r="3.90" fill="#c81332" stroke="#c60a2e" stroke-width="0.9"/>
<circle cx="421.0" cy="916.8" r="3.90" fill="#c81332" stroke="#c60a2e" stroke-width="0.9"/>
<circle cx="424.6" cy="931.9" r="3.90" fill="#c81332" stroke="#c60a2e" stroke-width="0.9"/>
<circle cx="426.8" cy="931.9" r="3.90" fill="#c81332" stroke="#c60a2e" stroke-width="0.9"/>
<circle cx="444.7" cy="931.9" r="3.90" fill="#c81332" stroke="#c60a2e" stroke-width="0.9"/>
<circle cx="448.2" cy="931.9" r="3.90" fill="#c81332" stroke="#c60a2e" stroke-width="0.9"/>
<circle cx="451.7" cy="931.9" r="3.90" fill="#c81332" stroke="#c60a2e" stroke-width="0.9"/>
<circle cx="440.4" cy="947.0" r="3.90" fill="#c81332" stroke="#c60a2e" stroke-width="0.9"/>
<circle cx="448.9" cy="947.0" r="3.90" fill="#c81332" stroke="#c60a2e" stroke-width="0.9"/>
<circle cx="407.5" cy="962.0" r="3.90" fill="#c81332" stroke="#c60a2e" stroke-width="0.9"/>
<circle cx="437.7" cy="962.0" r="3.90" fill="#c81332" stroke="#c60a2e" stroke-width="0.9"/>
<circle cx="447.4" cy="962.0" r="3.90" fill="#c81332" stroke="#c60a2e" stroke-width="0.9"/>
<circle cx="452.6" cy="962.0" r="3.90" fill="#c81332" stroke="#c60a2e" stroke-width="0.9"/>
<circle cx="405.4" cy="977.1" r="3.90" fill="#c81332" stroke="#c60a2e" stroke-width="0.9"/>
<circle cx="408.3" cy="992.2" r="3.90" fill="#c81332" stroke="#c60a2e" stroke-width="0.9"/>
<circle cx="410.5" cy="992.2" r="3.90" fill="#c81332" stroke="#c60a2e" stroke-width="0.9"/>
<circle cx="426.2" cy="992.2" r="3.90" fill="#c81332" stroke="#c60a2e" stroke-width="0.9"/>
<circle cx="429.5" cy="992.2" r="3.90" fill="#c81332" stroke="#c60a2e" stroke-width="0.9"/>
<circle cx="432.8" cy="992.2" r="3.90" fill="#c81332" stroke="#c60a2e" stroke-width="0.9"/>
<circle cx="427.3" cy="1022.3" r="3.90" fill="#c81332" stroke="#c60a2e" stroke-width="0.9"/>
<line x1="72" y1="786.60" x2="72" y2="1063.80" stroke="#000" stroke-width="2"/>
<line x1="71" y1="1062.80" x2="506" y2="1062.80" stroke="#000" stroke-width="2"/>
<line x1="65.2" y1="811.30" x2="72" y2="811.30" stroke="#000" stroke-width="1.5"/>
<text x="60" y="816.50" font-size="16" text-anchor="end">5</text>
<line x1="65.2" y1="871.60" x2="72" y2="871.60" stroke="#000" stroke-width="1.5"/>
<text x="60" y="876.80" font-size="16" text-anchor="end">4</text>
<line x1="65.2" y1="931.90" x2="72" y2="931.90" stroke="#000" stroke-width="1.5"/>
<text x="60" y="937.10" font-size="16" text-anchor="end">3</text>
<line x1="65.2" y1="992.20" x2="72" y2="992.20" stroke="#000" stroke-width="1.5"/>
<text x="60" y="997.40" font-size="16" text-anchor="end">2</text>
<line x1="65.2" y1="1052.50" x2="72" y2="1052.50" stroke="#000" stroke-width="1.5"/>
<text x="60" y="1057.70" font-size="16" text-anchor="end">1</text>
<line x1="151.00" y1="1062.80" x2="151.00" y2="1068.80" stroke="#000" stroke-width="1.5"/>
<text x="151.00" y="1087.50" font-size="15.5" text-anchor="middle">Mild</text>
<line x1="289.50" y1="1062.80" x2="289.50" y2="1068.80" stroke="#000" stroke-width="1.5"/>
<text x="289.50" y="1087.50" font-size="15.5" text-anchor="middle">Moderate</text>
<line x1="428.00" y1="1062.80" x2="428.00" y2="1068.80" stroke="#000" stroke-width="1.5"/>
<text x="428.00" y="1087.50" font-size="15.5" text-anchor="middle">Severe</text>
<text x="218.70" y="1114.20" font-size="19" textLength="24.30" lengthAdjust="spacingAndGlyphs" stroke="#000" stroke-width="0.45">HHT</text>
<text x="247.90" y="1114.20" font-size="19" textLength="62.30" lengthAdjust="spacingAndGlyphs" stroke="#000" stroke-width="0.45">self-report</text>
<text x="313.60" y="1114.20" font-size="19" textLength="46.60" lengthAdjust="spacingAndGlyphs" stroke="#000" stroke-width="0.45">severity</text>
<text transform="translate(28.00,989.20) rotate(-90)" x="0" y="0" font-size="19" textLength="25.90" lengthAdjust="spacingAndGlyphs" stroke="#000" stroke-width="0.45">HHT</text>
<text transform="translate(28.00,959.30) rotate(-90)" x="0" y="0" font-size="19" textLength="24.90" lengthAdjust="spacingAndGlyphs" stroke="#000" stroke-width="0.45">QOL</text>
<text transform="translate(28.00,929.60) rotate(-90)" x="0" y="0" font-size="19" textLength="31.80" lengthAdjust="spacingAndGlyphs" stroke="#000" stroke-width="0.45">mean</text>
<text transform="translate(28.00,893.40) rotate(-90)" x="0" y="0" font-size="19" textLength="31.90" lengthAdjust="spacingAndGlyphs" stroke="#000" stroke-width="0.45">score</text>
<text x="13.8" y="786.60" font-size="23" font-weight="bold" stroke="#000" stroke-width="0.7">C</text>
<rect x="1" y="1" width="518" height="1127" fill="none" stroke="#000" stroke-width="2"/>
</svg></body></html>
